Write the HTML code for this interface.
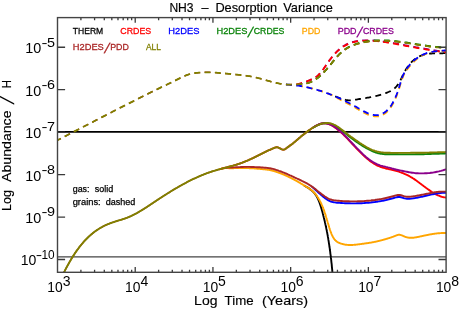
<!DOCTYPE html>
<html><head><meta charset="utf-8"><title>NH3 - Desorption Variance</title>
<style>html,body{margin:0;padding:0;background:#fff;}svg{display:block;}text{font-family:"Liberation Sans",sans-serif;}.t{font-size:12.6px;fill:#000;stroke:#000;stroke-width:0.15px;}.tk{font-size:14.6px;fill:#000;}.ex{font-size:12.8px;fill:#000;}.lg{font-size:9.3px;stroke-width:0.28px;}.an{font-size:8.9px;fill:#000;stroke:#000;stroke-width:0.25px;}</style></head><body>
<svg width="463" height="309" viewBox="0 0 463 309">
<rect width="463" height="309" fill="#fff"/>
<defs><clipPath id="cp"><rect x="57.50" y="17.60" width="388.60" height="254.70"/></clipPath></defs>
<line x1="57.50" x2="446.10" y1="131.8" y2="131.8" stroke="#000" stroke-width="1.7"/>
<line x1="57.50" x2="446.10" y1="256.8" y2="256.8" stroke="#444" stroke-width="1.35"/>
<filter id="bl" x="-5%" y="-5%" width="110%" height="110%"><feGaussianBlur stdDeviation="0.42"/></filter>
<g clip-path="url(#cp)"><g stroke-linejoin="round" filter="url(#bl)">
<path d="M63.9 272.7 L64.9 270.7 L65.9 268.7 L66.9 266.8 L67.9 265.0 L68.9 263.2 L69.9 261.4 L70.9 259.7 L71.9 258.0 L72.9 256.4 L73.9 254.9 L74.9 253.3 L75.9 251.9 L76.9 250.4 L77.9 249.1 L78.9 247.7 L79.9 246.4 L80.9 245.2 L81.9 244.0 L82.9 242.8 L83.9 241.6 L84.9 240.5 L85.9 239.5 L86.9 238.5 L87.9 237.5 L88.9 236.5 L89.9 235.6 L90.9 234.7 L91.9 233.9 L92.9 233.1 L93.9 232.3 L94.9 231.5 L95.9 230.8 L96.9 230.1 L97.9 229.5 L98.9 228.8 L99.9 228.2 L100.9 227.6 L101.9 227.1 L102.9 226.5 L103.9 226.0 L104.9 225.5 L105.9 225.0 L106.9 224.6 L107.9 224.2 L108.9 223.8 L109.9 223.4 L110.9 223.0 L111.9 222.6 L112.9 222.3 L113.9 222.0 L114.9 221.6 L115.9 221.3 L116.9 221.0 L117.9 220.7 L118.9 220.4 L119.9 220.1 L120.9 219.8 L121.9 219.5 L122.9 219.1 L123.9 218.8 L124.9 218.5 L125.9 218.1 L126.9 217.8 L127.9 217.4 L128.9 217.0 L129.9 216.5 L130.9 216.1 L131.9 215.6 L132.9 215.1 L133.9 214.6 L134.9 214.1 L135.9 213.6 L136.9 213.1 L137.9 212.5 L138.9 211.9 L139.9 211.3 L140.9 210.7 L141.9 210.1 L142.9 209.5 L143.9 208.9 L144.9 208.2 L145.9 207.6 L146.9 207.0 L147.9 206.3 L148.9 205.6 L149.9 205.0 L150.9 204.3 L151.9 203.6 L152.9 203.0 L153.9 202.3 L154.9 201.6 L155.9 201.0 L156.9 200.3 L157.9 199.6 L158.9 199.0 L159.9 198.3 L160.9 197.7 L161.9 197.0 L162.9 196.4 L163.9 195.7 L164.9 195.1 L165.9 194.5 L166.9 193.8 L167.9 193.2 L168.9 192.6 L169.9 192.0 L170.9 191.3 L171.9 190.7 L172.9 190.1 L173.9 189.5 L174.9 188.9 L175.9 188.3 L176.9 187.8 L177.9 187.2 L178.9 186.6 L179.9 186.0 L180.9 185.5 L181.9 184.9 L182.9 184.4 L183.9 183.8 L184.9 183.3 L185.9 182.8 L186.9 182.2 L187.9 181.7 L188.9 181.2 L189.9 180.7 L190.9 180.2 L191.9 179.7 L192.9 179.2 L193.9 178.7 L194.9 178.3 L195.9 177.8 L196.9 177.4 L197.9 176.9 L198.9 176.5 L199.9 176.0 L200.9 175.6 L201.9 175.2 L202.9 174.8 L203.9 174.4 L204.9 174.0 L205.9 173.6 L206.9 173.2 L207.9 172.9 L208.9 172.5 L209.9 172.2 L210.9 171.8 L211.9 171.5 L212.9 171.2 L213.9 170.9 L214.9 170.6 L215.9 170.3 L216.9 170.0 L217.9 169.7 L218.9 169.4 L219.9 169.2 L220.9 168.9" stroke="#aa2626" stroke-width="1.50" fill="none"/>
<path d="M304.2 185.4 L304.4 185.6 L304.7 185.7 L304.9 185.9 L305.2 186.0 L305.4 186.2 L305.7 186.3 L305.9 186.5 L306.2 186.6 L306.4 186.8 L306.7 186.9 L306.9 187.1 L307.2 187.3 L307.4 187.4 L307.7 187.6 L307.9 187.7 L308.2 187.9 L308.4 188.0 L308.7 188.2 L308.9 188.4 L309.2 188.5 L309.4 188.7 L309.7 188.9 L309.9 189.1 L310.2 189.3 L310.4 189.5 L310.7 189.6 L310.9 189.8 L311.2 190.0 L311.4 190.3 L311.7 190.5 L311.9 190.7 L312.2 190.9 L312.4 191.1 L312.7 191.4 L312.9 191.6 L313.2 191.9 L313.4 192.1 L313.7 192.4 L313.9 192.6 L314.2 192.9 L314.4 193.2 L314.7 193.5 L314.9 193.8 L315.2 194.1 L315.4 194.5 L315.7 194.8 L315.9 195.2 L316.2 195.6 L316.4 196.0 L316.7 196.4 L316.9 196.9 L317.2 197.3 L317.4 197.8 L317.7 198.3 L317.9 198.8 L318.2 199.4 L318.4 200.0 L318.7 200.5 L318.9 201.2 L319.2 201.8 L319.4 202.5 L319.7 203.2 L319.9 203.9 L320.2 204.6 L320.4 205.3 L320.7 206.1 L320.9 206.9 L321.2 207.7 L321.4 208.6 L321.7 209.4 L321.9 210.3 L322.2 211.2 L322.4 212.1 L322.7 213.1 L322.9 214.0 L323.2 215.0 L323.4 216.0 L323.7 217.0 L323.9 218.0 L324.2 219.0 L324.4 220.1 L324.7 221.1 L324.9 222.2 L325.2 223.3 L325.4 224.4 L325.7 225.5 L325.9 226.6 L326.2 227.8 L326.4 229.0 L326.7 230.2 L326.9 231.5 L327.2 232.8 L327.4 234.1 L327.7 235.5 L327.9 236.9 L328.2 238.4 L328.4 239.9 L328.7 241.5 L328.9 243.1 L329.2 244.7 L329.4 246.5 L329.7 248.2 L329.9 250.0 L330.2 251.9 L330.4 253.8 L330.7 255.7 L330.9 257.7 L331.2 259.8 L331.4 262.1 L331.7 264.4 L331.9 266.9 L332.2 269.6 L332.4 272.5" stroke="#000000" stroke-width="1.90" fill="none"/>
<path d="M219.9 169.2 L220.9 168.9 L221.9 168.6 L222.9 168.3 L223.9 168.1 L224.9 167.8 L225.9 167.6 L226.9 167.3 L227.9 167.0 L228.9 166.8 L229.9 166.5 L230.9 166.2 L231.9 165.9 L232.9 165.7 L233.9 165.4 L234.9 165.1 L235.9 164.8 L236.9 164.5 L237.9 164.1 L238.9 163.8 L239.9 163.5 L240.9 163.1 L241.9 162.8 L242.9 162.4 L243.9 162.0 L244.9 161.6 L245.9 161.2 L246.9 160.8 L247.9 160.4 L248.9 159.9 L249.9 159.5 L250.9 159.0 L251.9 158.5 L252.9 158.1 L253.9 157.6 L254.9 157.1 L255.9 156.6 L256.9 156.1 L257.9 155.6 L258.9 155.1 L259.9 154.6 L260.9 154.1 L261.9 153.6 L262.9 153.1 L263.9 152.6 L264.9 152.1 L265.9 151.6 L266.9 151.1 L267.9 150.6 L268.9 150.2 L269.9 149.8 L270.9 149.3 L271.9 148.9 L272.9 148.5 L273.9 148.0 L274.9 147.6 L275.9 147.3 L276.9 147.2 L277.9 147.4 L278.9 147.8 L279.9 148.3 L280.9 148.9 L281.9 149.4 L282.9 149.7 L283.9 149.6 L284.9 149.3 L285.9 148.6 L286.9 147.8 L287.9 147.1 L288.9 146.4 L289.9 145.6 L290.9 144.9 L291.9 144.2 L292.9 143.4 L293.9 142.6 L294.9 141.7 L295.9 140.9 L296.9 140.0 L297.9 139.2 L298.9 138.3 L299.9 137.5 L300.9 136.6 L301.9 135.8 L302.9 135.0 L303.9 134.2 L304.9 133.4 L305.9 132.6 L306.9 131.9 L307.9 131.1 L308.9 130.4 L309.9 129.7 L310.9 129.0 L311.9 128.3 L312.9 127.7 L313.9 127.0 L314.9 126.4 L315.9 125.9 L316.9 125.3 L317.9 124.8 L318.9 124.4 L319.9 124.0 L320.9 123.7 L321.9 123.5 L322.9 123.4 L323.9 123.3 L324.9 123.3 L325.9 123.4 L326.9 123.6 L327.9 123.8 L328.9 124.1 L329.9 124.5 L330.9 125.0 L331.9 125.5 L332.9 126.1 L333.9 126.7 L334.9 127.4 L335.9 128.1 L336.9 128.9 L337.9 129.7 L338.9 130.5 L339.9 131.4 L340.9 132.3 L341.9 133.2 L342.9 134.2 L343.9 135.2 L344.9 136.1 L345.9 137.2 L346.9 138.2 L347.9 139.2 L348.9 140.3 L349.9 141.3 L350.9 142.4 L351.9 143.5 L352.9 144.5 L353.9 145.6 L354.9 146.7 L355.9 147.8 L356.9 148.8 L357.9 149.9 L358.9 150.9 L359.9 151.9 L360.9 152.9 L361.9 153.9 L362.9 154.9 L363.9 155.8 L364.9 156.7 L365.9 157.6 L366.9 158.5 L367.9 159.3 L368.9 160.1 L369.9 160.9 L370.9 161.6 L371.9 162.3 L372.9 163.0 L373.9 163.6 L374.9 164.2 L375.9 164.8 L376.9 165.3 L377.9 165.8 L378.9 166.2 L379.9 166.6 L380.9 167.0 L381.9 167.3 L382.9 167.7 L383.9 167.9 L384.9 168.2 L385.9 168.5 L386.9 168.7 L387.9 168.9 L388.9 169.2 L389.9 169.4 L390.9 169.6 L391.9 169.8 L392.9 170.1 L393.9 170.3 L394.9 170.6 L395.9 170.8 L396.9 171.1 L397.9 171.4 L398.9 171.7 L399.9 172.1 L400.9 172.4 L401.9 172.8 L402.9 173.2 L403.9 173.6 L404.9 174.0 L405.9 174.5 L406.9 174.9 L407.9 175.4 L408.9 175.9 L409.9 176.5 L410.9 177.1 L411.9 177.6 L412.9 178.3 L413.9 178.9 L414.9 179.6 L415.9 180.3 L416.9 181.0 L417.9 181.8 L418.9 182.5 L419.9 183.3 L420.9 184.0 L421.9 184.8 L422.9 185.5 L423.9 186.3 L424.9 187.0 L425.9 187.8 L426.9 188.5 L427.9 189.2 L428.9 189.9 L429.9 190.6 L430.9 191.3 L431.9 192.0 L432.9 192.6 L433.9 193.2 L434.9 193.8 L435.9 194.3 L436.9 194.8 L437.9 195.3 L438.9 195.7 L439.9 196.1 L440.9 196.5 L441.9 196.8 L442.9 197.1 L443.9 197.3 L444.9 197.4 L445.9 197.5 L446.3 197.5" stroke="#ff0000" stroke-width="1.90" fill="none"/>
<path d="M311.9 186.7 L312.9 187.5 L313.9 188.4 L314.9 189.3 L315.9 190.2 L316.9 191.1 L317.9 192.0 L318.9 193.0 L319.9 193.9 L320.9 194.8 L321.9 195.6 L322.9 196.5 L323.9 197.3 L324.9 198.1 L325.9 198.8 L326.9 199.5 L327.9 200.1 L328.9 200.6 L329.9 201.1 L330.9 201.5 L331.9 201.8 L332.9 202.1 L333.9 202.3 L334.9 202.4 L335.9 202.6 L336.9 202.7 L337.9 202.7 L338.9 202.8 L339.9 202.9 L340.9 203.0 L341.9 203.0 L342.9 203.1 L343.9 203.1 L344.9 203.2 L345.9 203.2 L346.9 203.3 L347.9 203.3 L348.9 203.3 L349.9 203.3 L350.9 203.4 L351.9 203.4 L352.9 203.4 L353.9 203.4 L354.9 203.4 L355.9 203.4 L356.9 203.3 L357.9 203.3 L358.9 203.3 L359.9 203.3 L360.9 203.2 L361.9 203.2 L362.9 203.1 L363.9 203.1 L364.9 203.0 L365.9 202.9 L366.9 202.8 L367.9 202.8 L368.9 202.7 L369.9 202.6 L370.9 202.5 L371.9 202.3 L372.9 202.2 L373.9 202.1 L374.9 202.0 L375.9 201.8 L376.9 201.7 L377.9 201.5 L378.9 201.4 L379.9 201.2 L380.9 201.1 L381.9 200.9 L382.9 200.7 L383.9 200.5 L384.9 200.3 L385.9 200.1 L386.9 199.8 L387.9 199.5 L388.9 199.3 L389.9 199.0 L390.9 198.8 L391.9 198.5 L392.9 198.3 L393.9 198.0 L394.9 197.7 L395.9 197.4 L396.9 197.2 L397.9 197.0 L398.9 196.9 L399.9 197.0 L400.9 197.2 L401.9 197.5 L402.9 197.8 L403.9 198.2 L404.9 198.4 L405.9 198.6 L406.9 198.7 L407.9 198.7 L408.9 198.7 L409.9 198.7 L410.9 198.6 L411.9 198.5 L412.9 198.4 L413.9 198.2 L414.9 198.1 L415.9 197.9 L416.9 197.7 L417.9 197.5 L418.9 197.3 L419.9 197.1 L420.9 196.9 L421.9 196.7 L422.9 196.5 L423.9 196.2 L424.9 196.0 L425.9 195.8 L426.9 195.5 L427.9 195.3 L428.9 195.1 L429.9 194.8 L430.9 194.6 L431.9 194.4 L432.9 194.2 L433.9 194.0 L434.9 193.8 L435.9 193.6 L436.9 193.5 L437.9 193.3 L438.9 193.2 L439.9 193.1 L440.9 193.0 L441.9 192.9 L442.9 192.9 L443.9 192.8 L444.9 192.8 L445.9 192.9 L446.3 192.9" stroke="#0000ff" stroke-width="1.90" fill="none"/>
<path d="M312.9 127.7 L313.9 127.1 L314.9 126.6 L315.9 126.0 L316.9 125.5 L317.9 125.0 L318.9 124.6 L319.9 124.2 L320.9 123.8 L321.9 123.6 L322.9 123.4 L323.9 123.2 L324.9 123.2 L325.9 123.2 L326.9 123.3 L327.9 123.4 L328.9 123.6 L329.9 123.8 L330.9 124.1 L331.9 124.4 L332.9 124.9 L333.9 125.3 L334.9 125.9 L335.9 126.4 L336.9 127.1 L337.9 127.7 L338.9 128.4 L339.9 129.2 L340.9 129.9 L341.9 130.7 L342.9 131.5 L343.9 132.3 L344.9 133.0 L345.9 133.8 L346.9 134.6 L347.9 135.4 L348.9 136.2 L349.9 137.0 L350.9 137.7 L351.9 138.5 L352.9 139.2 L353.9 139.9 L354.9 140.7 L355.9 141.4 L356.9 142.1 L357.9 142.8 L358.9 143.5 L359.9 144.2 L360.9 144.8 L361.9 145.5 L362.9 146.1 L363.9 146.7 L364.9 147.3 L365.9 147.9 L366.9 148.5 L367.9 149.0 L368.9 149.5 L369.9 150.0 L370.9 150.5 L371.9 151.0 L372.9 151.4 L373.9 151.8 L374.9 152.2 L375.9 152.6 L376.9 152.9 L377.9 153.2 L378.9 153.4 L379.9 153.6 L380.9 153.8 L381.9 153.9 L382.9 154.0 L383.9 154.1 L384.9 154.2 L385.9 154.2 L386.9 154.2 L387.9 154.2 L388.9 154.2 L389.9 154.2 L390.9 154.2 L391.9 154.2 L392.9 154.2 L393.9 154.3 L394.9 154.3 L395.9 154.3 L396.9 154.3 L397.9 154.3 L398.9 154.4 L399.9 154.4 L400.9 154.4 L401.9 154.4 L402.9 154.4 L403.9 154.4 L404.9 154.4 L405.9 154.4 L406.9 154.4 L407.9 154.4 L408.9 154.4 L409.9 154.4 L410.9 154.4 L411.9 154.4 L412.9 154.4 L413.9 154.4 L414.9 154.4 L415.9 154.3 L416.9 154.3 L417.9 154.3 L418.9 154.3 L419.9 154.3 L420.9 154.2 L421.9 154.2 L422.9 154.2 L423.9 154.2 L424.9 154.1 L425.9 154.1 L426.9 154.1 L427.9 154.0 L428.9 154.0 L429.9 154.0 L430.9 154.0 L431.9 153.9 L432.9 153.9 L433.9 153.8 L434.9 153.8 L435.9 153.8 L436.9 153.7 L437.9 153.7 L438.9 153.7 L439.9 153.6 L440.9 153.6 L441.9 153.6 L442.9 153.5 L443.9 153.5 L444.9 153.5 L445.9 153.4 L446.3 153.4" stroke="#0a830a" stroke-width="1.90" fill="none"/>
<path d="M219.2 169.4 L219.4 169.3 L219.7 169.2 L219.9 169.2 L220.2 169.1 L220.4 169.0 L220.7 168.9 L220.9 168.9 L221.2 168.8 L221.4 168.8 L221.7 168.7 L221.9 168.6 L222.2 168.6 L222.4 168.5 L222.7 168.5 L222.9 168.4 L223.2 168.4 L223.4 168.3 L223.7 168.3 L223.9 168.3 L224.2 168.2 L224.4 168.2 L224.7 168.2 L224.9 168.1 L225.2 168.1 L225.4 168.1 L225.7 168.1 L225.9 168.1 L226.2 168.1 L226.4 168.1 L226.7 168.1 L226.9 168.1 L227.2 168.1 L227.4 168.1 L227.7 168.1 L227.9 168.1 L228.2 168.1 L228.4 168.1 L228.7 168.2 L228.9 168.2 L229.2 168.2 L229.4 168.2 L229.7 168.2 L229.9 168.2 L230.2 168.3 L230.4 168.3 L230.7 168.3 L230.9 168.3 L231.2 168.3 L231.4 168.3 L231.7 168.3 L231.9 168.3 L232.2 168.3 L232.4 168.2 L232.7 168.2 L232.9 168.2 L233.2 168.2 L233.4 168.2 L233.7 168.2 L233.9 168.2 L234.2 168.1 L234.4 168.1 L234.7 168.1 L234.9 168.1 L235.2 168.1 L235.4 168.1 L235.7 168.1 L235.9 168.1 L236.2 168.1 L236.4 168.0 L236.7 168.0 L236.9 168.0 L237.2 168.0 L237.4 168.0 L237.7 168.0 L237.9 168.0 L238.2 168.0 L238.4 168.0 L238.7 168.0 L238.9 168.0 L239.2 168.0 L239.4 168.0 L239.7 168.0 L239.9 168.0 L240.2 168.0 L240.4 168.0 L240.7 168.0 L240.9 168.0 L241.2 168.0 L241.4 168.0 L241.7 168.0 L241.9 168.0 L242.2 168.0 L242.4 168.0 L242.7 168.0 L242.9 168.0 L243.2 168.0 L243.4 168.0 L243.7 168.0 L243.9 168.0 L244.2 168.0 L244.4 168.0 L244.7 168.0 L244.9 168.0 L245.2 168.0 L245.4 168.0 L245.7 168.0 L245.9 168.0 L246.2 168.0 L246.4 168.0 L246.7 168.1 L246.9 168.1 L247.2 168.1 L247.4 168.1 L247.7 168.1 L247.9 168.1 L248.2 168.1 L248.4 168.1 L248.7 168.1 L248.9 168.1 L249.2 168.2 L249.4 168.2 L249.7 168.2 L249.9 168.2 L250.2 168.2 L250.4 168.2 L250.7 168.2 L250.9 168.2 L251.2 168.3 L251.4 168.3 L251.7 168.3 L251.9 168.3 L252.2 168.3 L252.4 168.3 L252.7 168.3 L252.9 168.4 L253.2 168.4 L253.4 168.4 L253.7 168.4 L253.9 168.4 L254.2 168.4 L254.4 168.5 L254.7 168.5 L254.9 168.5 L255.2 168.5 L255.4 168.5 L255.7 168.6 L255.9 168.6 L256.2 168.6 L256.4 168.6 L256.7 168.6 L256.9 168.7 L257.2 168.7 L257.4 168.7 L257.7 168.7 L257.9 168.7 L258.2 168.8 L258.4 168.8 L258.7 168.8 L258.9 168.8 L259.2 168.9 L259.4 168.9 L259.7 168.9 L259.9 168.9 L260.2 168.9 L260.4 169.0 L260.7 169.0 L260.9 169.0 L261.2 169.0 L261.4 169.0 L261.7 169.1 L261.9 169.1 L262.2 169.1 L262.4 169.1 L262.7 169.2 L262.9 169.2 L263.2 169.2 L263.4 169.2 L263.7 169.2 L263.9 169.3 L264.2 169.3 L264.4 169.3 L264.7 169.3 L264.9 169.4 L265.2 169.4 L265.4 169.4 L265.7 169.5 L265.9 169.5 L266.2 169.5 L266.4 169.5 L266.7 169.6 L266.9 169.6 L267.2 169.6 L267.4 169.7 L267.7 169.7 L267.9 169.7 L268.2 169.8 L268.4 169.8 L268.7 169.9 L268.9 169.9 L269.2 169.9 L269.4 170.0 L269.7 170.0 L269.9 170.1 L270.2 170.1 L270.4 170.2 L270.7 170.2 L270.9 170.3 L271.2 170.3 L271.4 170.4 L271.7 170.5 L271.9 170.5 L272.2 170.6 L272.4 170.7 L272.7 170.7 L272.9 170.8 L273.2 170.9 L273.4 170.9 L273.7 171.0 L273.9 171.1 L274.2 171.1 L274.4 171.2 L274.7 171.3 L274.9 171.4 L275.2 171.5 L275.4 171.5 L275.7 171.6 L275.9 171.7 L276.2 171.8 L276.4 171.9 L276.7 172.0 L276.9 172.0 L277.2 172.1 L277.4 172.2 L277.7 172.3 L277.9 172.4 L278.2 172.5 L278.4 172.6 L278.7 172.7 L278.9 172.8 L279.2 172.9 L279.4 172.9 L279.7 173.0 L279.9 173.1 L280.2 173.2 L280.4 173.3 L280.7 173.4 L280.9 173.5 L281.2 173.6 L281.4 173.7 L281.7 173.8 L281.9 173.9 L282.2 174.0 L282.4 174.1 L282.7 174.2 L282.9 174.3 L283.2 174.4 L283.4 174.5 L283.7 174.6 L283.9 174.7 L284.2 174.8 L284.4 174.9 L284.7 175.0 L284.9 175.2 L285.2 175.3 L285.4 175.4 L285.7 175.5 L285.9 175.6 L286.2 175.7 L286.4 175.8 L286.7 175.9 L286.9 176.0 L287.2 176.2 L287.4 176.3 L287.7 176.4 L287.9 176.5 L288.2 176.6 L288.4 176.7 L288.7 176.8 L288.9 177.0 L289.2 177.1 L289.4 177.2 L289.7 177.3 L289.9 177.5 L290.2 177.6 L290.4 177.7 L290.7 177.8 L290.9 177.9 L291.2 178.1 L291.4 178.2 L291.7 178.3 L291.9 178.5 L292.2 178.6 L292.4 178.7 L292.7 178.8 L292.9 179.0 L293.2 179.1 L293.4 179.2 L293.7 179.4 L293.9 179.5 L294.2 179.6 L294.4 179.8 L294.7 179.9 L294.9 180.1 L295.2 180.2 L295.4 180.3 L295.7 180.5 L295.9 180.6 L296.2 180.7 L296.4 180.9 L296.7 181.0 L296.9 181.2 L297.2 181.3 L297.4 181.4 L297.7 181.6 L297.9 181.7 L298.2 181.9 L298.4 182.0 L298.7 182.2 L298.9 182.3 L299.2 182.4 L299.4 182.6 L299.7 182.7 L299.9 182.9 L300.2 183.0 L300.4 183.2 L300.7 183.3 L300.9 183.5 L301.2 183.6 L301.4 183.8 L301.7 183.9 L301.9 184.1 L302.2 184.2 L302.4 184.4 L302.7 184.5 L302.9 184.7 L303.2 184.8 L303.4 185.0 L303.7 185.1 L303.9 185.3 L304.2 185.4 L304.4 185.6 L304.7 185.7 L304.9 185.9 L305.2 186.0 L305.4 186.2 L305.7 186.3 L305.9 186.5 L306.2 186.6 L306.4 186.8 L306.7 186.9 L306.9 187.1 L307.2 187.3 L307.4 187.4 L307.7 187.6 L307.9 187.7 L308.2 187.9 L308.4 188.0 L308.7 188.2 L308.9 188.4 L309.2 188.5 L309.4 188.7 L309.7 188.9 L309.9 189.0 L310.2 189.2 L310.4 189.4 L310.7 189.6 L310.9 189.7 L311.2 189.9 L311.4 190.1 L311.7 190.3 L311.9 190.5 L312.2 190.7 L312.4 190.9 L312.7 191.2 L312.9 191.4 L313.2 191.6 L313.4 191.9 L313.7 192.1 L313.9 192.4 L314.2 192.6 L314.4 192.9 L314.7 193.2 L314.9 193.5 L315.2 193.8 L315.4 194.1 L315.7 194.4 L315.9 194.7 L316.2 195.0 L316.4 195.4 L316.7 195.7 L316.9 196.1 L317.2 196.5 L317.4 196.8 L317.7 197.2 L317.9 197.6 L318.2 198.0 L318.4 198.4 L318.7 198.8 L318.9 199.2 L319.2 199.7 L319.4 200.1 L319.7 200.6 L319.9 201.0 L320.2 201.5 L320.4 202.0 L320.7 202.5 L320.9 203.0 L321.2 203.5 L321.4 204.0 L321.7 204.6 L321.9 205.1 L322.2 205.7 L322.4 206.3 L322.7 206.9 L322.9 207.5 L323.2 208.1 L323.4 208.8 L323.7 209.5 L323.9 210.2 L324.2 210.9 L324.4 211.6 L324.7 212.4 L324.9 213.1 L325.2 213.9 L325.4 214.7 L325.7 215.5 L325.9 216.3 L326.2 217.1 L326.4 218.0 L326.7 218.8 L326.9 219.6 L327.2 220.5 L327.4 221.3 L327.7 222.2 L327.9 223.0 L328.2 223.9 L328.4 224.7 L328.7 225.5 L328.9 226.4 L329.2 227.2 L329.4 228.0 L329.7 228.8 L329.9 229.6 L330.2 230.3 L330.4 231.0 L330.7 231.8 L330.9 232.5 L331.2 233.1 L331.4 233.8 L331.7 234.4 L331.9 234.9 L332.2 235.5 L332.4 236.0 L332.7 236.5 L332.9 237.0 L333.2 237.4 L333.4 237.8 L333.7 238.2 L333.9 238.6 L334.2 238.9 L334.4 239.3 L334.7 239.6 L334.9 239.9 L335.2 240.1 L335.4 240.4 L335.7 240.7 L335.9 240.9 L336.2 241.1 L336.4 241.3 L336.7 241.5 L336.9 241.7 L337.2 241.9 L337.4 242.0 L337.7 242.2 L337.9 242.3 L338.2 242.5 L338.4 242.6 L338.7 242.7 L338.9 242.8 L339.2 242.9 L339.4 243.0 L339.7 243.1 L339.9 243.2 L340.2 243.3 L340.4 243.4 L340.7 243.5 L340.9 243.6 L341.2 243.6 L341.4 243.7 L341.7 243.8 L341.9 243.9 L342.2 243.9 L342.4 244.0 L342.7 244.1 L342.9 244.1 L343.2 244.2 L343.4 244.3 L343.7 244.3 L343.9 244.4 L344.2 244.4 L344.4 244.5 L344.7 244.5 L344.9 244.6 L345.2 244.6 L345.4 244.7 L345.7 244.7 L345.9 244.7 L346.2 244.8 L346.4 244.8 L346.7 244.8 L346.9 244.9 L347.2 244.9 L347.4 244.9 L347.7 244.9 L347.9 244.9 L348.2 245.0 L348.4 245.0 L348.7 245.0 L348.9 245.0 L349.2 245.0 L349.4 245.0 L349.7 245.0 L349.9 245.0 L350.2 245.0 L350.4 245.0 L350.7 245.0 L350.9 245.0 L351.2 245.0 L351.4 245.0 L351.7 245.0 L351.9 245.0 L352.2 245.0 L352.4 245.0 L352.7 245.0 L352.9 244.9 L353.2 244.9 L353.4 244.9 L353.7 244.9 L353.9 244.9 L354.2 244.8 L354.4 244.8 L354.7 244.8 L354.9 244.8 L355.2 244.7 L355.4 244.7 L355.7 244.7 L355.9 244.7 L356.2 244.6 L356.4 244.6 L356.7 244.6 L356.9 244.5 L357.2 244.5 L357.4 244.5 L357.7 244.4 L357.9 244.4 L358.2 244.4 L358.4 244.4 L358.7 244.3 L358.9 244.3 L359.2 244.3 L359.4 244.2 L359.7 244.2 L359.9 244.2 L360.2 244.1 L360.4 244.1 L360.7 244.1 L360.9 244.0 L361.2 244.0 L361.4 244.0 L361.7 243.9 L361.9 243.9 L362.2 243.9 L362.4 243.8 L362.7 243.8 L362.9 243.8 L363.2 243.7 L363.4 243.7 L363.7 243.7 L363.9 243.6 L364.2 243.6 L364.4 243.6 L364.7 243.5 L364.9 243.5 L365.2 243.5 L365.4 243.4 L365.7 243.4 L365.9 243.3 L366.2 243.3 L366.4 243.3 L366.7 243.2 L366.9 243.2 L367.2 243.2 L367.4 243.1 L367.7 243.1 L367.9 243.1 L368.2 243.0 L368.4 243.0 L368.7 243.0 L368.9 242.9 L369.2 242.9 L369.4 242.8 L369.7 242.8 L369.9 242.8 L370.2 242.7 L370.4 242.7 L370.7 242.6 L370.9 242.6 L371.2 242.6 L371.4 242.5 L371.7 242.5 L371.9 242.4 L372.2 242.4 L372.4 242.3 L372.7 242.3 L372.9 242.2 L373.2 242.2 L373.4 242.1 L373.7 242.1 L373.9 242.0 L374.2 242.0 L374.4 241.9 L374.7 241.9 L374.9 241.8 L375.2 241.8 L375.4 241.7 L375.7 241.7 L375.9 241.6 L376.2 241.6 L376.4 241.5 L376.7 241.5 L376.9 241.4 L377.2 241.3 L377.4 241.3 L377.7 241.2 L377.9 241.2 L378.2 241.1 L378.4 241.1 L378.7 241.0 L378.9 240.9 L379.2 240.9 L379.4 240.8 L379.7 240.7 L379.9 240.7 L380.2 240.6 L380.4 240.6 L380.7 240.5 L380.9 240.4 L381.2 240.4 L381.4 240.3 L381.7 240.2 L381.9 240.2 L382.2 240.1 L382.4 240.0 L382.7 240.0 L382.9 239.9 L383.2 239.8 L383.4 239.8 L383.7 239.7 L383.9 239.6 L384.2 239.5 L384.4 239.5 L384.7 239.4 L384.9 239.3 L385.2 239.3 L385.4 239.2 L385.7 239.1 L385.9 239.0 L386.2 239.0 L386.4 238.9 L386.7 238.8 L386.9 238.7 L387.2 238.7 L387.4 238.6 L387.7 238.5 L387.9 238.4 L388.2 238.4 L388.4 238.3 L388.7 238.2 L388.9 238.1 L389.2 238.0 L389.4 238.0 L389.7 237.9 L389.9 237.8 L390.2 237.7 L390.4 237.6 L390.7 237.6 L390.9 237.5 L391.2 237.4 L391.4 237.3 L391.7 237.2 L391.9 237.1 L392.2 237.0 L392.4 236.9 L392.7 236.9 L392.9 236.8 L393.2 236.7 L393.4 236.6 L393.7 236.5 L393.9 236.4 L394.2 236.3 L394.4 236.2 L394.7 236.1 L394.9 236.0 L395.2 235.9 L395.4 235.8 L395.7 235.7 L395.9 235.6 L396.2 235.5 L396.4 235.4 L396.7 235.3 L396.9 235.2 L397.2 235.1 L397.4 235.1 L397.7 235.0 L397.9 234.9 L398.2 234.9 L398.4 234.8 L398.7 234.8 L398.9 234.8 L399.2 234.8 L399.4 234.8 L399.7 234.8 L399.9 234.8 L400.2 234.9 L400.4 234.9 L400.7 235.0 L400.9 235.1 L401.2 235.1 L401.4 235.2 L401.7 235.3 L401.9 235.4 L402.2 235.5 L402.4 235.6 L402.7 235.7 L402.9 235.8 L403.2 236.0 L403.4 236.1 L403.7 236.2 L403.9 236.3 L404.2 236.4 L404.4 236.5 L404.7 236.6 L404.9 236.7 L405.2 236.8 L405.4 236.9 L405.7 237.0 L405.9 237.1 L406.2 237.1 L406.4 237.2 L406.7 237.3 L406.9 237.3 L407.2 237.4 L407.4 237.4 L407.7 237.5 L407.9 237.5 L408.2 237.6 L408.4 237.6 L408.7 237.7 L408.9 237.7 L409.2 237.7 L409.4 237.7 L409.7 237.8 L409.9 237.8 L410.2 237.8 L410.4 237.8 L410.7 237.8 L410.9 237.8 L411.2 237.8 L411.4 237.8 L411.7 237.8 L411.9 237.8 L412.2 237.8 L412.4 237.8 L412.7 237.7 L412.9 237.7 L413.2 237.7 L413.4 237.7 L413.7 237.7 L413.9 237.6 L414.2 237.6 L414.4 237.6 L414.7 237.5 L414.9 237.5 L415.2 237.5 L415.4 237.4 L415.7 237.4 L415.9 237.3 L416.2 237.3 L416.4 237.3 L416.7 237.2 L416.9 237.2 L417.2 237.1 L417.4 237.1 L417.7 237.0 L417.9 237.0 L418.2 236.9 L418.4 236.9 L418.7 236.8 L418.9 236.8 L419.2 236.7 L419.4 236.7 L419.7 236.6 L419.9 236.5 L420.2 236.5 L420.4 236.4 L420.7 236.4 L420.9 236.3 L421.2 236.3 L421.4 236.2 L421.7 236.2 L421.9 236.1 L422.2 236.1 L422.4 236.0 L422.7 235.9 L422.9 235.9 L423.2 235.8 L423.4 235.8 L423.7 235.7 L423.9 235.7 L424.2 235.6 L424.4 235.6 L424.7 235.5 L424.9 235.5 L425.2 235.4 L425.4 235.4 L425.7 235.3 L425.9 235.3 L426.2 235.2 L426.4 235.2 L426.7 235.1 L426.9 235.1 L427.2 235.0 L427.4 235.0 L427.7 234.9 L427.9 234.9 L428.2 234.8 L428.4 234.8 L428.7 234.7 L428.9 234.7 L429.2 234.6 L429.4 234.6 L429.7 234.5 L429.9 234.5 L430.2 234.4 L430.4 234.4 L430.7 234.3 L430.9 234.3 L431.2 234.3 L431.4 234.2 L431.7 234.2 L431.9 234.1 L432.2 234.1 L432.4 234.0 L432.7 234.0 L432.9 234.0 L433.2 233.9 L433.4 233.9 L433.7 233.9 L433.9 233.8 L434.2 233.8 L434.4 233.7 L434.7 233.7 L434.9 233.7 L435.2 233.6 L435.4 233.6 L435.7 233.6 L435.9 233.5 L436.2 233.5 L436.4 233.5 L436.7 233.4 L436.9 233.4 L437.2 233.4 L437.4 233.4 L437.7 233.3 L437.9 233.3 L438.2 233.3 L438.4 233.3 L438.7 233.2 L438.9 233.2 L439.2 233.2 L439.4 233.2 L439.7 233.2 L439.9 233.1 L440.2 233.1 L440.4 233.1 L440.7 233.1 L440.9 233.1 L441.2 233.1 L441.4 233.0 L441.7 233.0 L441.9 233.0 L442.2 233.0 L442.4 233.0 L442.7 233.0 L442.9 233.0 L443.2 233.0 L443.4 233.0 L443.7 233.0 L443.9 233.0 L444.2 233.0 L444.4 233.0 L444.7 233.0 L444.9 233.0 L445.2 233.0 L445.4 233.0 L445.7 233.0 L445.9 233.0 L446.2 233.0 L446.3 233.0" stroke="#ffa500" stroke-width="1.90" fill="none"/>
<path d="M312.9 127.7 L313.9 127.0 L314.9 126.4 L315.9 125.9 L316.9 125.3 L317.9 124.8 L318.9 124.4 L319.9 124.0 L320.9 123.7 L321.9 123.5 L322.9 123.4 L323.9 123.3 L324.9 123.3 L325.9 123.4 L326.9 123.5 L327.9 123.7 L328.9 124.0 L329.9 124.4 L330.9 124.8 L331.9 125.3 L332.9 125.9 L333.9 126.5 L334.9 127.1 L335.9 127.8 L336.9 128.6 L337.9 129.4 L338.9 130.2 L339.9 131.0 L340.9 131.9 L341.9 132.8 L342.9 133.7 L343.9 134.7 L344.9 135.7 L345.9 136.7 L346.9 137.7 L347.9 138.7 L348.9 139.7 L349.9 140.8 L350.9 141.8 L351.9 142.9 L352.9 144.0 L353.9 145.0 L354.9 146.1 L355.9 147.1 L356.9 148.2 L357.9 149.2 L358.9 150.2 L359.9 151.2 L360.9 152.2 L361.9 153.2 L362.9 154.2 L363.9 155.1 L364.9 156.0 L365.9 156.9 L366.9 157.7 L367.9 158.5 L368.9 159.3 L369.9 160.0 L370.9 160.7 L371.9 161.4 L372.9 162.0 L373.9 162.6 L374.9 163.2 L375.9 163.7 L376.9 164.2 L377.9 164.6 L378.9 165.0 L379.9 165.4 L380.9 165.7 L381.9 165.9 L382.9 166.2 L383.9 166.4 L384.9 166.6 L385.9 166.9 L386.9 167.1 L387.9 167.4 L388.9 167.6 L389.9 167.9 L390.9 168.2 L391.9 168.5 L392.9 168.7 L393.9 169.0 L394.9 169.3 L395.9 169.5 L396.9 169.8 L397.9 170.0 L398.9 170.2 L399.9 170.4 L400.9 170.6 L401.9 170.8 L402.9 171.0 L403.9 171.2 L404.9 171.4 L405.9 171.6 L406.9 171.8 L407.9 172.0 L408.9 172.2 L409.9 172.4 L410.9 172.5 L411.9 172.7 L412.9 172.8 L413.9 172.9 L414.9 173.1 L415.9 173.2 L416.9 173.2 L417.9 173.3 L418.9 173.4 L419.9 173.4 L420.9 173.4 L421.9 173.4 L422.9 173.4 L423.9 173.4 L424.9 173.3 L425.9 173.3 L426.9 173.2 L427.9 173.1 L428.9 173.1 L429.9 173.0 L430.9 172.8 L431.9 172.7 L432.9 172.6 L433.9 172.4 L434.9 172.2 L435.9 172.0 L436.9 171.8 L437.9 171.6 L438.9 171.4 L439.9 171.1 L440.9 170.9 L441.9 170.6 L442.9 170.3 L443.9 170.0 L444.9 169.7 L445.9 169.4 L446.3 169.2" stroke="#8b008b" stroke-width="1.90" fill="none"/>
<path d="M219.9 169.2 L220.9 168.9 L221.9 168.6 L222.9 168.4 L223.9 168.1 L224.9 167.9 L225.9 167.8 L226.9 167.7 L227.9 167.6 L228.9 167.6 L229.9 167.6 L230.9 167.6 L231.9 167.6 L232.9 167.5 L233.9 167.4 L234.9 167.4 L235.9 167.3 L236.9 167.2 L237.9 167.2 L238.9 167.1 L239.9 167.1 L240.9 167.0 L241.9 167.0 L242.9 167.0 L243.9 166.9 L244.9 166.9 L245.9 166.9 L246.9 166.9 L247.9 166.9 L248.9 166.9 L249.9 166.9 L250.9 167.0 L251.9 167.0 L252.9 167.0 L253.9 167.0 L254.9 167.1 L255.9 167.1 L256.9 167.2 L257.9 167.2 L258.9 167.3 L259.9 167.3 L260.9 167.4 L261.9 167.5 L262.9 167.5 L263.9 167.6 L264.9 167.7 L265.9 167.8 L266.9 167.9 L267.9 168.0 L268.9 168.1 L269.9 168.3 L270.9 168.5 L271.9 168.7 L272.9 168.9 L273.9 169.2 L274.9 169.5 L275.9 169.8 L276.9 170.1 L277.9 170.4 L278.9 170.8 L279.9 171.1 L280.9 171.5 L281.9 171.9 L282.9 172.3 L283.9 172.7 L284.9 173.1 L285.9 173.5 L286.9 173.9 L287.9 174.4 L288.9 174.8 L289.9 175.3 L290.9 175.7 L291.9 176.2 L292.9 176.6 L293.9 177.1 L294.9 177.6 L295.9 178.0 L296.9 178.5 L297.9 179.0 L298.9 179.4 L299.9 179.9 L300.9 180.4 L301.9 180.9 L302.9 181.3 L303.9 181.8 L304.9 182.3 L305.9 182.8 L306.9 183.4 L307.9 184.0 L308.9 184.6 L309.9 185.2 L310.9 185.9 L311.9 186.6 L312.9 187.3 L313.9 188.1 L314.9 188.8 L315.9 189.6 L316.9 190.4 L317.9 191.3 L318.9 192.1 L319.9 192.8 L320.9 193.6 L321.9 194.4 L322.9 195.1 L323.9 195.8 L324.9 196.5 L325.9 197.1 L326.9 197.7 L327.9 198.3 L328.9 198.8 L329.9 199.2 L330.9 199.5 L331.9 199.8 L332.9 200.1 L333.9 200.3 L334.9 200.4 L335.9 200.5 L336.9 200.6 L337.9 200.7 L338.9 200.8 L339.9 200.9 L340.9 201.0 L341.9 201.0 L342.9 201.1 L343.9 201.1 L344.9 201.2 L345.9 201.2 L346.9 201.3 L347.9 201.3 L348.9 201.3 L349.9 201.4 L350.9 201.4 L351.9 201.4 L352.9 201.4 L353.9 201.4 L354.9 201.4 L355.9 201.4 L356.9 201.4 L357.9 201.3 L358.9 201.3 L359.9 201.3 L360.9 201.2 L361.9 201.2 L362.9 201.1 L363.9 201.1 L364.9 201.0 L365.9 200.9 L366.9 200.8 L367.9 200.8 L368.9 200.7 L369.9 200.6 L370.9 200.5 L371.9 200.3 L372.9 200.2 L373.9 200.1 L374.9 200.0 L375.9 199.8 L376.9 199.7 L377.9 199.5 L378.9 199.4 L379.9 199.2 L380.9 199.1 L381.9 198.9 L382.9 198.7 L383.9 198.5 L384.9 198.3 L385.9 198.0 L386.9 197.8 L387.9 197.5 L388.9 197.3 L389.9 197.0 L390.9 196.8 L391.9 196.5 L392.9 196.3 L393.9 196.0 L394.9 195.7 L395.9 195.4 L396.9 195.2 L397.9 195.0 L398.9 194.9 L399.9 195.0 L400.9 195.2 L401.9 195.5 L402.9 195.8 L403.9 196.2 L404.9 196.4 L405.9 196.6 L406.9 196.7 L407.9 196.7 L408.9 196.7 L409.9 196.7 L410.9 196.6 L411.9 196.5 L412.9 196.4 L413.9 196.2 L414.9 196.1 L415.9 195.9 L416.9 195.7 L417.9 195.5 L418.9 195.4 L419.9 195.2 L420.9 195.0 L421.9 194.8 L422.9 194.6 L423.9 194.4 L424.9 194.2 L425.9 194.0 L426.9 193.8 L427.9 193.6 L428.9 193.4 L429.9 193.2 L430.9 193.0 L431.9 192.8 L432.9 192.6 L433.9 192.5 L434.9 192.3 L435.9 192.2 L436.9 192.0 L437.9 191.9 L438.9 191.8 L439.9 191.7 L440.9 191.7 L441.9 191.6 L442.9 191.6 L443.9 191.6 L444.9 191.6 L445.9 191.7 L446.3 191.7" stroke="#aa2626" stroke-width="1.90" fill="none"/>
<path d="M63.9 272.7 L64.9 270.7 L65.9 268.7 L66.9 266.8 L67.9 265.0 L68.9 263.2 L69.9 261.4 L70.9 259.7 L71.9 258.0 L72.9 256.4 L73.9 254.9 L74.9 253.3 L75.9 251.9 L76.9 250.4 L77.9 249.1 L78.9 247.7 L79.9 246.4 L80.9 245.2 L81.9 244.0 L82.9 242.8 L83.9 241.6 L84.9 240.5 L85.9 239.5 L86.9 238.5 L87.9 237.5 L88.9 236.5 L89.9 235.6 L90.9 234.7 L91.9 233.9 L92.9 233.1 L93.9 232.3 L94.9 231.5 L95.9 230.8 L96.9 230.1 L97.9 229.5 L98.9 228.8 L99.9 228.2 L100.9 227.6 L101.9 227.1 L102.9 226.5 L103.9 226.0 L104.9 225.5 L105.9 225.0 L106.9 224.6 L107.9 224.2 L108.9 223.8 L109.9 223.4 L110.9 223.0 L111.9 222.6 L112.9 222.3 L113.9 222.0 L114.9 221.6 L115.9 221.3 L116.9 221.0 L117.9 220.7 L118.9 220.4 L119.9 220.1 L120.9 219.8 L121.9 219.5 L122.9 219.1 L123.9 218.8 L124.9 218.5 L125.9 218.1 L126.9 217.8 L127.9 217.4 L128.9 217.0 L129.9 216.5 L130.9 216.1 L131.9 215.6 L132.9 215.1 L133.9 214.6 L134.9 214.1 L135.9 213.6 L136.9 213.1 L137.9 212.5 L138.9 211.9 L139.9 211.3 L140.9 210.7 L141.9 210.1 L142.9 209.5 L143.9 208.9 L144.9 208.2 L145.9 207.6 L146.9 207.0 L147.9 206.3 L148.9 205.6 L149.9 205.0 L150.9 204.3 L151.9 203.6 L152.9 203.0 L153.9 202.3 L154.9 201.6 L155.9 201.0 L156.9 200.3 L157.9 199.6 L158.9 199.0 L159.9 198.3 L160.9 197.7 L161.9 197.0 L162.9 196.4 L163.9 195.7 L164.9 195.1 L165.9 194.5 L166.9 193.8 L167.9 193.2 L168.9 192.6 L169.9 192.0 L170.9 191.3 L171.9 190.7 L172.9 190.1 L173.9 189.5 L174.9 188.9 L175.9 188.3 L176.9 187.8 L177.9 187.2 L178.9 186.6 L179.9 186.0 L180.9 185.5 L181.9 184.9 L182.9 184.4 L183.9 183.8 L184.9 183.3 L185.9 182.8 L186.9 182.2 L187.9 181.7 L188.9 181.2 L189.9 180.7 L190.9 180.2 L191.9 179.7 L192.9 179.2 L193.9 178.7 L194.9 178.3 L195.9 177.8 L196.9 177.4 L197.9 176.9 L198.9 176.5 L199.9 176.0 L200.9 175.6 L201.9 175.2 L202.9 174.8 L203.9 174.4 L204.9 174.0 L205.9 173.6 L206.9 173.2 L207.9 172.9 L208.9 172.5 L209.9 172.2 L210.9 171.8 L211.9 171.5 L212.9 171.2 L213.9 170.9 L214.9 170.6 L215.9 170.3 L216.9 170.0 L217.9 169.7 L218.9 169.4 L219.9 169.2 L220.9 168.9 L221.9 168.6 L222.9 168.3 L223.9 168.1 L224.9 167.8 L225.9 167.6 L226.9 167.3 L227.9 167.0 L228.9 166.8 L229.9 166.5 L230.9 166.2 L231.9 165.9 L232.9 165.7 L233.9 165.4 L234.9 165.1 L235.9 164.8 L236.9 164.5 L237.9 164.1 L238.9 163.8 L239.9 163.5 L240.9 163.1 L241.9 162.8 L242.9 162.4 L243.9 162.0 L244.9 161.6 L245.9 161.2 L246.9 160.8 L247.9 160.4 L248.9 159.9 L249.9 159.5 L250.9 159.0 L251.9 158.5 L252.9 158.1 L253.9 157.6 L254.9 157.1 L255.9 156.6 L256.9 156.1 L257.9 155.6 L258.9 155.1 L259.9 154.6 L260.9 154.1 L261.9 153.6 L262.9 153.1 L263.9 152.6 L264.9 152.1 L265.9 151.6 L266.9 151.1 L267.9 150.6 L268.9 150.2 L269.9 149.8 L270.9 149.3 L271.9 148.9 L272.9 148.5 L273.9 148.0 L274.9 147.6 L275.9 147.3 L276.9 147.2 L277.9 147.4 L278.9 147.8 L279.9 148.3 L280.9 148.9 L281.9 149.4 L282.9 149.7 L283.9 149.6 L284.9 149.3 L285.9 148.6 L286.9 147.8 L287.9 147.1 L288.9 146.4 L289.9 145.6 L290.9 144.9 L291.9 144.2 L292.9 143.4 L293.9 142.6 L294.9 141.7 L295.9 140.9 L296.9 140.0 L297.9 139.2 L298.9 138.3 L299.9 137.5 L300.9 136.6 L301.9 135.8 L302.9 135.0 L303.9 134.2 L304.9 133.4 L305.9 132.6 L306.9 131.9 L307.9 131.1 L308.9 130.4 L309.9 129.7 L310.9 129.0 L311.9 128.3 L312.9 127.7 L313.9 127.1 L314.9 126.6 L315.9 126.0 L316.9 125.5 L317.9 125.1 L318.9 124.7 L319.9 124.3 L320.9 124.0 L321.9 123.7 L322.9 123.4 L323.9 123.3 L324.9 123.1 L325.9 123.0 L326.9 123.0 L327.9 123.0 L328.9 123.1 L329.9 123.3 L330.9 123.5 L331.9 123.8 L332.9 124.1 L333.9 124.6 L334.9 125.0 L335.9 125.6 L336.9 126.2 L337.9 126.8 L338.9 127.5 L339.9 128.2 L340.9 129.0 L341.9 129.7 L342.9 130.5 L343.9 131.3 L344.9 132.1 L345.9 132.9 L346.9 133.7 L347.9 134.4 L348.9 135.2 L349.9 135.9 L350.9 136.7 L351.9 137.4 L352.9 138.1 L353.9 138.8 L354.9 139.5 L355.9 140.2 L356.9 140.9 L357.9 141.6 L358.9 142.3 L359.9 143.0 L360.9 143.6 L361.9 144.3 L362.9 144.9 L363.9 145.5 L364.9 146.1 L365.9 146.7 L366.9 147.3 L367.9 147.8 L368.9 148.4 L369.9 148.9 L370.9 149.3 L371.9 149.8 L372.9 150.2 L373.9 150.5 L374.9 150.9 L375.9 151.2 L376.9 151.5 L377.9 151.7 L378.9 151.9 L379.9 152.1 L380.9 152.3 L381.9 152.4 L382.9 152.5 L383.9 152.6 L384.9 152.7 L385.9 152.7 L386.9 152.8 L387.9 152.8 L388.9 152.8 L389.9 152.8 L390.9 152.9 L391.9 152.9 L392.9 152.9 L393.9 152.9 L394.9 152.9 L395.9 152.9 L396.9 152.9 L397.9 152.9 L398.9 152.9 L399.9 152.9 L400.9 152.9 L401.9 152.9 L402.9 152.9 L403.9 152.9 L404.9 152.9 L405.9 152.9 L406.9 152.9 L407.9 152.9 L408.9 152.9 L409.9 152.9 L410.9 152.8 L411.9 152.8 L412.9 152.8 L413.9 152.8 L414.9 152.8 L415.9 152.8 L416.9 152.8 L417.9 152.8 L418.9 152.8 L419.9 152.7 L420.9 152.7 L421.9 152.7 L422.9 152.7 L423.9 152.7 L424.9 152.7 L425.9 152.6 L426.9 152.6 L427.9 152.6 L428.9 152.6 L429.9 152.5 L430.9 152.5 L431.9 152.5 L432.9 152.5 L433.9 152.4 L434.9 152.4 L435.9 152.4 L436.9 152.4 L437.9 152.3 L438.9 152.3 L439.9 152.3 L440.9 152.2 L441.9 152.2 L442.9 152.1 L443.9 152.1 L444.9 152.1 L445.9 152.0 L446.3 152.0" stroke="#808000" stroke-width="1.90" fill="none"/>
<path d="M57.5 140.2 L58.5 139.7 L59.5 139.2 L60.5 138.7 L61.5 138.1 L62.5 137.6 L63.5 137.1 L64.5 136.6 L65.5 136.1 L66.5 135.6 L67.5 135.0 L68.5 134.5 L69.5 134.0 L70.5 133.5 L71.5 133.0 L72.5 132.5 L73.5 131.9 L74.5 131.4 L75.5 130.9 L76.5 130.4 L77.5 129.9 L78.5 129.3 L79.5 128.8 L80.5 128.3 L81.5 127.8 L82.5 127.3 L83.5 126.7 L84.5 126.2 L85.5 125.7 L86.5 125.2 L87.5 124.7 L88.5 124.2 L89.5 123.6 L90.5 123.1 L91.5 122.6 L92.5 122.1 L93.5 121.6 L94.5 121.0 L95.5 120.5 L96.5 120.0 L97.5 119.5 L98.5 119.0 L99.5 118.5 L100.5 117.9 L101.5 117.4 L102.5 116.9 L103.5 116.4 L104.5 115.9 L105.5 115.4 L106.5 114.8 L107.5 114.3 L108.5 113.8 L109.5 113.3 L110.5 112.8 L111.5 112.3 L112.5 111.7 L113.5 111.2 L114.5 110.7 L115.5 110.2 L116.5 109.7 L117.5 109.2 L118.5 108.7 L119.5 108.2 L120.5 107.6 L121.5 107.1 L122.5 106.6 L123.5 106.1 L124.5 105.6 L125.5 105.1 L126.5 104.6 L127.5 104.1 L128.5 103.6 L129.5 103.1 L130.5 102.6 L131.5 102.1 L132.5 101.6 L133.5 101.1 L134.5 100.5 L135.5 100.0 L136.5 99.5 L137.5 99.0 L138.5 98.5 L139.5 98.0 L140.5 97.5 L141.5 97.0 L142.5 96.5 L143.5 96.0 L144.5 95.5 L145.5 95.0 L146.5 94.5 L147.5 94.0 L148.5 93.5 L149.5 93.0 L150.5 92.5 L151.5 92.0 L152.5 91.5 L153.5 91.0 L154.5 90.5 L155.5 90.1 L156.5 89.6 L157.5 89.1 L158.5 88.6 L159.5 88.1 L160.5 87.6 L161.5 87.1 L162.5 86.6 L163.5 86.2 L164.5 85.7 L165.5 85.2 L166.5 84.8 L167.5 84.3 L168.5 83.8 L169.5 83.3 L170.5 82.9 L171.5 82.4 L172.5 81.9 L173.5 81.4 L174.5 80.9 L175.5 80.4 L176.5 79.9 L177.5 79.4 L178.5 78.9 L179.5 78.4 L180.5 77.9 L181.5 77.4 L182.5 76.9 L183.5 76.4 L184.5 76.0 L185.5 75.6 L186.5 75.2 L187.5 74.8 L188.5 74.5 L189.5 74.2 L190.5 73.9 L191.5 73.7 L192.5 73.5 L193.5 73.3 L194.5 73.1 L195.5 73.0 L196.5 72.9 L197.5 72.8 L198.5 72.7 L199.5 72.6 L200.5 72.5 L201.5 72.4 L202.5 72.4 L203.5 72.3 L204.5 72.3 L205.5 72.3 L206.5 72.3 L207.5 72.3 L208.5 72.3 L209.5 72.3 L210.5 72.4 L211.5 72.4 L212.5 72.4 L213.5 72.5 L214.5 72.6 L215.5 72.6 L216.5 72.7 L217.5 72.8 L218.5 72.9 L219.5 73.0 L220.5 73.1 L221.5 73.1 L222.5 73.2 L223.5 73.3 L224.5 73.4 L225.5 73.5 L226.5 73.6 L227.5 73.7 L228.5 73.8 L229.5 73.9 L230.5 74.0 L231.5 74.1 L232.5 74.2 L233.5 74.3 L234.5 74.4 L235.5 74.5 L236.5 74.6 L237.5 74.7 L238.5 74.8 L239.5 74.9 L240.5 75.0 L241.5 75.1 L242.5 75.2 L243.5 75.3 L244.5 75.5 L245.5 75.6 L246.5 75.8 L247.5 75.9 L248.5 76.1 L249.5 76.2 L250.5 76.4 L251.5 76.6 L252.5 76.8 L253.5 77.0 L254.5 77.2 L255.5 77.4 L256.5 77.7 L257.5 77.9 L258.5 78.2 L259.5 78.4 L260.5 78.7 L261.5 79.0 L262.5 79.2 L263.5 79.5 L264.5 79.8 L265.5 80.1 L266.5 80.4 L267.5 80.7 L268.5 80.9 L269.5 81.2 L270.5 81.5 L271.5 81.8 L272.5 82.0 L273.5 82.3 L274.5 82.6 L275.5 82.8 L276.5 83.0 L277.5 83.2 L278.5 83.4 L279.5 83.6 L280.5 83.8 L281.5 83.9 L282.5 84.1 L283.5 84.2 L284.5 84.3 L285.5 84.4 L286.5 84.5 L287.5 84.6 L288.5 84.6 L289.5 84.7 L290.5 84.7 L291.5 84.7 L292.5 84.7 L293.5 84.6 L294.5 84.6 L295.5 84.5 L296.5 84.5 L297.5 84.4 L298.5 84.3 L299.5 84.2 L300.5 84.1 L301.5 84.0 L302.5 83.9 L303.5 83.8 L304.5 83.7 L305.5 83.5 L306.5 83.3 L307.5 83.1 L308.5 82.8 L309.5 82.5 L310.5 82.1 L311.5 81.7 L312.5 81.2 L313.5 80.7 L314.5 80.1 L315.5 79.4 L316.5 78.7 L317.5 78.0 L318.5 77.2 L319.5 76.4 L320.5 75.5 L321.5 74.6 L322.5 73.6 L323.5 72.6 L324.5 71.6 L325.5 70.5 L326.5 69.4 L327.5 68.2 L328.5 67.0 L329.5 65.8 L330.5 64.6 L331.5 63.4 L332.5 62.1 L333.5 60.9 L334.5 59.7 L335.5 58.5 L336.5 57.4 L337.5 56.3 L338.5 55.2 L339.5 54.2 L340.5 53.3 L341.5 52.4 L342.5 51.5 L343.5 50.7 L344.5 50.0 L345.5 49.3 L346.5 48.7 L347.5 48.1 L348.5 47.5 L349.5 47.0 L350.5 46.5 L351.5 46.1 L352.5 45.6 L353.5 45.2 L354.5 44.9 L355.5 44.5 L356.5 44.2 L357.5 43.9 L358.5 43.6 L359.5 43.3 L360.5 43.1 L361.5 42.8 L362.5 42.6 L363.5 42.4 L364.5 42.2 L365.5 42.0 L366.5 41.8 L367.5 41.7 L368.5 41.5 L369.5 41.4 L370.5 41.3 L371.5 41.2 L372.5 41.1 L373.5 41.0 L374.5 40.9 L375.5 40.8 L376.5 40.8 L377.5 40.7 L378.5 40.7 L379.5 40.7 L380.5 40.7 L381.5 40.7 L382.5 40.7 L383.5 40.7 L384.5 40.7 L385.5 40.8 L386.5 40.8 L387.5 40.9 L388.5 40.9 L389.5 41.0 L390.5 41.1 L391.5 41.1 L392.5 41.2 L393.5 41.3 L394.5 41.4 L395.5 41.5 L396.5 41.6 L397.5 41.7 L398.5 41.9 L399.5 42.0 L400.5 42.1 L401.5 42.2 L402.5 42.4 L403.5 42.5 L404.5 42.7 L405.5 42.8 L406.5 42.9 L407.5 43.1 L408.5 43.3 L409.5 43.4 L410.5 43.6 L411.5 43.7 L412.5 43.9 L413.5 44.0 L414.5 44.2 L415.5 44.4 L416.5 44.5 L417.5 44.7 L418.5 44.8 L419.5 45.0 L420.5 45.1 L421.5 45.3 L422.5 45.5 L423.5 45.6 L424.5 45.8 L425.5 45.9 L426.5 46.0 L427.5 46.2 L428.5 46.3 L429.5 46.5 L430.5 46.6 L431.5 46.7 L432.5 46.8 L433.5 46.9 L434.5 47.1 L435.5 47.2 L436.5 47.3 L437.5 47.4 L438.5 47.4 L439.5 47.5 L440.5 47.6 L441.5 47.7 L442.5 47.7 L443.5 47.8 L444.5 47.8 L445.5 47.9 L446.3 47.9" stroke="#aa2626" stroke-width="1.40" fill="none" stroke-dasharray="5.95 4.37" stroke-dashoffset="2.20"/>
<path d="M330.5 94.5 L331.5 94.9 L332.5 95.3 L333.5 95.7 L334.5 96.1 L335.5 96.5 L336.5 96.9 L337.5 97.3 L338.5 97.6 L339.5 98.0 L340.5 98.3 L341.5 98.7 L342.5 99.0 L343.5 99.4 L344.5 99.6 L345.5 99.9 L346.5 100.1 L347.5 100.2 L348.5 100.3 L349.5 100.3 L350.5 100.3 L351.5 100.3 L352.5 100.2 L353.5 100.1 L354.5 99.9 L355.5 99.7 L356.5 99.6 L357.5 99.4 L358.5 99.2 L359.5 99.0 L360.5 98.9 L361.5 98.7 L362.5 98.5 L363.5 98.4 L364.5 98.2 L365.5 98.1 L366.5 97.9 L367.5 97.7 L368.5 97.6 L369.5 97.4 L370.5 97.2 L371.5 97.0 L372.5 96.8 L373.5 96.6 L374.5 96.4 L375.5 96.2 L376.5 95.9 L377.5 95.7 L378.5 95.4 L379.5 95.1 L380.5 94.8 L381.5 94.5 L382.5 94.2 L383.5 93.9 L384.5 93.5 L385.5 93.2 L386.5 92.8 L387.5 92.4 L388.5 92.0 L389.5 91.5 L390.5 91.1 L391.5 90.6 L392.5 89.9 L393.5 89.3 L394.5 88.4 L395.5 87.5 L396.5 86.4 L397.5 85.2 L398.5 83.7 L399.5 82.0 L400.5 80.2 L401.5 78.1 L402.5 76.0 L403.5 73.9 L404.5 72.0 L405.5 70.2 L406.5 68.6 L407.5 67.1 L408.5 65.7 L409.5 64.4 L410.5 63.3 L411.5 62.2 L412.5 61.2 L413.5 60.3 L414.5 59.5 L415.5 58.8 L416.5 58.1 L417.5 57.4 L418.5 56.9 L419.5 56.3 L420.5 55.9 L421.5 55.5 L422.5 55.1 L423.5 54.8 L424.5 54.5 L425.5 54.3 L426.5 54.1 L427.5 53.9 L428.5 53.7 L429.5 53.6 L430.5 53.5 L431.5 53.5 L432.5 53.4 L433.5 53.4 L434.5 53.3 L435.5 53.3 L436.5 53.3 L437.5 53.3 L438.5 53.3 L439.5 53.3 L440.5 53.3 L441.5 53.3 L442.5 53.3 L443.5 53.2 L444.5 53.2 L445.5 53.1 L446.3 53.0" stroke="#000000" stroke-width="1.80" fill="none" stroke-dasharray="5.95 4.37" stroke-dashoffset="5.32"/>
<path d="M300.5 83.5 L301.5 83.2 L302.5 82.9 L303.5 82.6 L304.5 82.3 L305.5 81.9 L306.5 81.5 L307.5 81.1 L308.5 80.7 L309.5 80.3 L310.5 79.8 L311.5 79.4 L312.5 79.0 L313.5 78.5 L314.5 77.9 L315.5 77.3 L316.5 76.7 L317.5 75.9 L318.5 75.0 L319.5 74.0 L320.5 72.8 L321.5 71.6 L322.5 70.3 L323.5 69.0 L324.5 67.5 L325.5 66.1 L326.5 64.6 L327.5 63.2 L328.5 61.8 L329.5 60.3 L330.5 59.0 L331.5 57.7 L332.5 56.4 L333.5 55.2 L334.5 54.1 L335.5 53.0 L336.5 51.9 L337.5 50.9 L338.5 50.0 L339.5 49.1 L340.5 48.3 L341.5 47.5 L342.5 46.8 L343.5 46.1 L344.5 45.5 L345.5 44.9 L346.5 44.4 L347.5 43.9 L348.5 43.5 L349.5 43.1 L350.5 42.7 L351.5 42.3 L352.5 42.0 L353.5 41.8 L354.5 41.5 L355.5 41.3 L356.5 41.1 L357.5 40.9 L358.5 40.8 L359.5 40.7 L360.5 40.6 L361.5 40.5 L362.5 40.4 L363.5 40.3 L364.5 40.3 L365.5 40.3 L366.5 40.3 L367.5 40.3 L368.5 40.3 L369.5 40.3 L370.5 40.3 L371.5 40.4 L372.5 40.4 L373.5 40.5 L374.5 40.5 L375.5 40.6 L376.5 40.7 L377.5 40.8 L378.5 40.9 L379.5 41.0 L380.5 41.1 L381.5 41.2 L382.5 41.3 L383.5 41.5 L384.5 41.6 L385.5 41.8 L386.5 41.9 L387.5 42.1 L388.5 42.2 L389.5 42.4 L390.5 42.5 L391.5 42.7 L392.5 42.9 L393.5 43.1 L394.5 43.3 L395.5 43.4 L396.5 43.6 L397.5 43.8 L398.5 44.0 L399.5 44.2 L400.5 44.4 L401.5 44.6 L402.5 44.8 L403.5 44.9 L404.5 45.1 L405.5 45.3 L406.5 45.5 L407.5 45.7 L408.5 45.9 L409.5 46.1 L410.5 46.3 L411.5 46.4 L412.5 46.6 L413.5 46.8 L414.5 47.0 L415.5 47.2 L416.5 47.3 L417.5 47.5 L418.5 47.7 L419.5 47.9 L420.5 48.0 L421.5 48.2 L422.5 48.4 L423.5 48.5 L424.5 48.7 L425.5 48.9 L426.5 49.0 L427.5 49.2 L428.5 49.4 L429.5 49.5 L430.5 49.7 L431.5 49.8 L432.5 50.0 L433.5 50.2 L434.5 50.3 L435.5 50.5 L436.5 50.6 L437.5 50.8 L438.5 50.9 L439.5 51.1 L440.5 51.2 L441.5 51.3 L442.5 51.5 L443.5 51.6 L444.5 51.8 L445.5 51.9 L446.3 52.0" stroke="#8b008b" stroke-width="1.80" fill="none" stroke-dasharray="5.95 4.37" stroke-dashoffset="4.27"/>
<path d="M290.5 84.7 L291.5 84.7 L292.5 84.6 L293.5 84.6 L294.5 84.5 L295.5 84.4 L296.5 84.3 L297.5 84.2 L298.5 84.0 L299.5 83.7 L300.5 83.5 L301.5 83.2 L302.5 82.9 L303.5 82.6 L304.5 82.3 L305.5 81.9 L306.5 81.5 L307.5 81.1 L308.5 80.7 L309.5 80.3 L310.5 79.8 L311.5 79.4 L312.5 79.0 L313.5 78.5 L314.5 77.9 L315.5 77.3 L316.5 76.7 L317.5 75.9 L318.5 75.0 L319.5 74.0 L320.5 72.8 L321.5 71.6 L322.5 70.3 L323.5 69.0 L324.5 67.5 L325.5 66.1 L326.5 64.6 L327.5 63.2 L328.5 61.8 L329.5 60.3 L330.5 59.0 L331.5 57.7 L332.5 56.5 L333.5 55.3 L334.5 54.2 L335.5 53.1 L336.5 52.1 L337.5 51.2 L338.5 50.3 L339.5 49.4 L340.5 48.6 L341.5 47.9 L342.5 47.2 L343.5 46.5 L344.5 45.9 L345.5 45.4 L346.5 44.9 L347.5 44.4 L348.5 43.9 L349.5 43.5 L350.5 43.1 L351.5 42.8 L352.5 42.5 L353.5 42.2 L354.5 42.0 L355.5 41.7 L356.5 41.5 L357.5 41.4 L358.5 41.2 L359.5 41.1 L360.5 41.0 L361.5 40.9 L362.5 40.8 L363.5 40.8 L364.5 40.8 L365.5 40.7 L366.5 40.7 L367.5 40.7 L368.5 40.7 L369.5 40.7 L370.5 40.8 L371.5 40.8 L372.5 40.9 L373.5 40.9 L374.5 41.0 L375.5 41.1 L376.5 41.1 L377.5 41.2 L378.5 41.3 L379.5 41.4 L380.5 41.5 L381.5 41.7 L382.5 41.8 L383.5 41.9 L384.5 42.1 L385.5 42.2 L386.5 42.4 L387.5 42.5 L388.5 42.7 L389.5 42.8 L390.5 43.0 L391.5 43.2 L392.5 43.3 L393.5 43.5 L394.5 43.7 L395.5 43.9 L396.5 44.1 L397.5 44.3 L398.5 44.4 L399.5 44.6 L400.5 44.8 L401.5 45.0 L402.5 45.2 L403.5 45.4 L404.5 45.6 L405.5 45.8 L406.5 46.0 L407.5 46.2 L408.5 46.3 L409.5 46.5 L410.5 46.7 L411.5 46.9 L412.5 47.1 L413.5 47.3 L414.5 47.4 L415.5 47.6 L416.5 47.8 L417.5 48.0 L418.5 48.1 L419.5 48.3 L420.5 48.5 L421.5 48.7 L422.5 48.8 L423.5 49.0 L424.5 49.2 L425.5 49.3 L426.5 49.5 L427.5 49.7 L428.5 49.8 L429.5 50.0 L430.5 50.1 L431.5 50.3 L432.5 50.4 L433.5 50.6 L434.5 50.8 L435.5 50.9 L436.5 51.1 L437.5 51.2 L438.5 51.4 L439.5 51.5 L440.5 51.7 L441.5 51.8 L442.5 51.9 L443.5 52.1 L444.5 52.2 L445.5 52.4 L446.3 52.5" stroke="#ff0000" stroke-width="1.80" fill="none" stroke-dasharray="5.95 4.37" stroke-dashoffset="4.49"/>
<path d="M300.5 86.0 L301.5 86.2 L302.5 86.4 L303.5 86.5 L304.5 86.7 L305.5 86.9 L306.5 87.2 L307.5 87.4 L308.5 87.6 L309.5 87.8 L310.5 88.1 L311.5 88.3 L312.5 88.6 L313.5 88.9 L314.5 89.1 L315.5 89.4 L316.5 89.7 L317.5 90.0 L318.5 90.3 L319.5 90.6 L320.5 90.9 L321.5 91.2 L322.5 91.6 L323.5 91.9 L324.5 92.3 L325.5 92.6 L326.5 93.0 L327.5 93.3 L328.5 93.7 L329.5 94.1 L330.5 94.5 L331.5 94.9 L332.5 95.4 L333.5 95.9 L334.5 96.4 L335.5 96.9 L336.5 97.5 L337.5 98.1 L338.5 98.6 L339.5 99.2 L340.5 99.8 L341.5 100.4 L342.5 100.9 L343.5 101.5 L344.5 102.0 L345.5 102.5 L346.5 103.0 L347.5 103.5 L348.5 104.0 L349.5 104.5 L350.5 105.1 L351.5 105.6 L352.5 106.2 L353.5 106.7 L354.5 107.3 L355.5 107.8 L356.5 108.4 L357.5 109.0 L358.5 109.6 L359.5 110.1 L360.5 110.7 L361.5 111.3 L362.5 111.8 L363.5 112.4 L364.5 112.9 L365.5 113.4 L366.5 113.9 L367.5 114.4 L368.5 114.8 L369.5 115.2 L370.5 115.5 L371.5 115.8 L372.5 116.0 L373.5 116.2 L374.5 116.4 L375.5 116.4 L376.5 116.4 L377.5 116.4 L378.5 116.3 L379.5 116.1 L380.5 115.8 L381.5 115.4 L382.5 115.0 L383.5 114.4 L384.5 113.8 L385.5 113.0 L386.5 112.2 L387.5 111.3 L388.5 110.2 L389.5 109.0 L390.5 107.7 L391.5 106.2 L392.5 104.5 L393.5 102.7 L394.5 100.7 L395.5 98.5 L396.5 96.1 L397.5 93.5 L398.5 90.6 L399.5 87.4 L400.5 84.0 L401.5 80.7 L402.5 78.0 L403.5 75.6 L404.5 73.6 L405.5 71.8 L406.5 70.3 L407.5 68.9 L408.5 67.6 L409.5 66.4 L410.5 65.2 L411.5 64.1 L412.5 63.0 L413.5 62.0 L414.5 61.1 L415.5 60.2 L416.5 59.4 L417.5 58.6 L418.5 57.9 L419.5 57.2 L420.5 56.6 L421.5 56.0 L422.5 55.5 L423.5 55.0 L424.5 54.5 L425.5 54.1 L426.5 53.7 L427.5 53.4 L428.5 53.0 L429.5 52.7 L430.5 52.5 L431.5 52.3 L432.5 52.1 L433.5 51.9 L434.5 51.8 L435.5 51.7 L436.5 51.5 L437.5 51.4 L438.5 51.3 L439.5 51.2 L440.5 51.2 L441.5 51.1 L442.5 51.0 L443.5 50.9 L444.5 50.8 L445.5 50.7 L446.3 50.6" stroke="#ffa500" stroke-width="1.80" fill="none" stroke-dasharray="5.95 4.37" stroke-dashoffset="3.46"/>
<path d="M285.5 84.4 L286.5 84.5 L287.5 84.6 L288.5 84.6 L289.5 84.7 L290.5 84.8 L291.5 84.8 L292.5 84.9 L293.5 85.0 L294.5 85.2 L295.5 85.3 L296.5 85.5 L297.5 85.6 L298.5 85.7 L299.5 85.9 L300.5 86.0 L301.5 86.2 L302.5 86.4 L303.5 86.5 L304.5 86.7 L305.5 86.9 L306.5 87.2 L307.5 87.4 L308.5 87.6 L309.5 87.8 L310.5 88.1 L311.5 88.3 L312.5 88.6 L313.5 88.9 L314.5 89.1 L315.5 89.4 L316.5 89.7 L317.5 90.0 L318.5 90.3 L319.5 90.6 L320.5 90.9 L321.5 91.2 L322.5 91.6 L323.5 91.9 L324.5 92.3 L325.5 92.6 L326.5 93.0 L327.5 93.3 L328.5 93.7 L329.5 94.1 L330.5 94.5 L331.5 94.9 L332.5 95.3 L333.5 95.7 L334.5 96.1 L335.5 96.5 L336.5 97.0 L337.5 97.4 L338.5 97.9 L339.5 98.3 L340.5 98.8 L341.5 99.2 L342.5 99.7 L343.5 100.2 L344.5 100.7 L345.5 101.2 L346.5 101.7 L347.5 102.2 L348.5 102.7 L349.5 103.2 L350.5 103.8 L351.5 104.3 L352.5 104.9 L353.5 105.4 L354.5 106.0 L355.5 106.5 L356.5 107.1 L357.5 107.7 L358.5 108.3 L359.5 108.8 L360.5 109.4 L361.5 110.0 L362.5 110.5 L363.5 111.1 L364.5 111.6 L365.5 112.1 L366.5 112.6 L367.5 113.1 L368.5 113.5 L369.5 113.9 L370.5 114.2 L371.5 114.5 L372.5 114.7 L373.5 114.9 L374.5 115.1 L375.5 115.1 L376.5 115.1 L377.5 115.1 L378.5 115.0 L379.5 114.8 L380.5 114.5 L381.5 114.1 L382.5 113.7 L383.5 113.1 L384.5 112.5 L385.5 111.7 L386.5 110.9 L387.5 110.0 L388.5 108.9 L389.5 107.7 L390.5 106.4 L391.5 104.9 L392.5 103.2 L393.5 101.4 L394.5 99.4 L395.5 97.2 L396.5 94.8 L397.5 92.2 L398.5 89.3 L399.5 86.1 L400.5 82.7 L401.5 79.4 L402.5 76.7 L403.5 74.3 L404.5 72.3 L405.5 70.5 L406.5 69.0 L407.5 67.6 L408.5 66.3 L409.5 65.1 L410.5 63.9 L411.5 62.9 L412.5 61.8 L413.5 60.9 L414.5 60.0 L415.5 59.2 L416.5 58.4 L417.5 57.7 L418.5 57.0 L419.5 56.4 L420.5 55.8 L421.5 55.3 L422.5 54.8 L423.5 54.4 L424.5 53.9 L425.5 53.6 L426.5 53.2 L427.5 52.9 L428.5 52.7 L429.5 52.4 L430.5 52.2 L431.5 52.0 L432.5 51.8 L433.5 51.6 L434.5 51.5 L435.5 51.4 L436.5 51.2 L437.5 51.1 L438.5 51.0 L439.5 50.9 L440.5 50.9 L441.5 50.8 L442.5 50.7 L443.5 50.6 L444.5 50.5 L445.5 50.4 L446.3 50.3" stroke="#0000ff" stroke-width="1.80" fill="none" stroke-dasharray="5.95 4.37" stroke-dashoffset="9.80"/>
<path d="M300.5 84.1 L301.5 84.0 L302.5 83.9 L303.5 83.8 L304.5 83.7 L305.5 83.5 L306.5 83.3 L307.5 83.1 L308.5 82.8 L309.5 82.5 L310.5 82.1 L311.5 81.7 L312.5 81.2 L313.5 80.7 L314.5 80.1 L315.5 79.4 L316.5 78.7 L317.5 78.0 L318.5 77.2 L319.5 76.4 L320.5 75.5 L321.5 74.6 L322.5 73.6 L323.5 72.6 L324.5 71.6 L325.5 70.5 L326.5 69.4 L327.5 68.2 L328.5 67.0 L329.5 65.8 L330.5 64.6 L331.5 63.4 L332.5 62.1 L333.5 60.9 L334.5 59.6 L335.5 58.4 L336.5 57.2 L337.5 56.1 L338.5 55.0 L339.5 53.9 L340.5 53.0 L341.5 52.0 L342.5 51.2 L343.5 50.4 L344.5 49.6 L345.5 48.9 L346.5 48.3 L347.5 47.7 L348.5 47.1 L349.5 46.6 L350.5 46.1 L351.5 45.7 L352.5 45.2 L353.5 44.8 L354.5 44.5 L355.5 44.1 L356.5 43.8 L357.5 43.5 L358.5 43.2 L359.5 42.9 L360.5 42.7 L361.5 42.4 L362.5 42.2 L363.5 42.0 L364.5 41.8 L365.5 41.6 L366.5 41.4 L367.5 41.3 L368.5 41.1 L369.5 41.0 L370.5 40.9 L371.5 40.8 L372.5 40.7 L373.5 40.6 L374.5 40.5 L375.5 40.4 L376.5 40.4 L377.5 40.3 L378.5 40.3 L379.5 40.3 L380.5 40.3 L381.5 40.3 L382.5 40.3 L383.5 40.3 L384.5 40.3 L385.5 40.4 L386.5 40.4 L387.5 40.5 L388.5 40.5 L389.5 40.6 L390.5 40.7 L391.5 40.7 L392.5 40.8 L393.5 40.9 L394.5 41.0 L395.5 41.1 L396.5 41.2 L397.5 41.3 L398.5 41.5 L399.5 41.6 L400.5 41.7 L401.5 41.8 L402.5 42.0 L403.5 42.1 L404.5 42.3 L405.5 42.4 L406.5 42.5 L407.5 42.7 L408.5 42.9 L409.5 43.0 L410.5 43.2 L411.5 43.3 L412.5 43.5 L413.5 43.6 L414.5 43.8 L415.5 44.0 L416.5 44.1 L417.5 44.3 L418.5 44.4 L419.5 44.6 L420.5 44.7 L421.5 44.9 L422.5 45.1 L423.5 45.2 L424.5 45.4 L425.5 45.5 L426.5 45.6 L427.5 45.8 L428.5 45.9 L429.5 46.1 L430.5 46.2 L431.5 46.3 L432.5 46.4 L433.5 46.5 L434.5 46.7 L435.5 46.8 L436.5 46.9 L437.5 47.0 L438.5 47.0 L439.5 47.1 L440.5 47.2 L441.5 47.3 L442.5 47.3 L443.5 47.4 L444.5 47.4 L445.5 47.5 L446.3 47.5" stroke="#0a830a" stroke-width="1.80" fill="none" stroke-dasharray="5.95 4.37" stroke-dashoffset="4.19"/>
<path d="M57.5 140.2 L58.5 139.7 L59.5 139.2 L60.5 138.7 L61.5 138.1 L62.5 137.6 L63.5 137.1 L64.5 136.6 L65.5 136.1 L66.5 135.6 L67.5 135.0 L68.5 134.5 L69.5 134.0 L70.5 133.5 L71.5 133.0 L72.5 132.5 L73.5 131.9 L74.5 131.4 L75.5 130.9 L76.5 130.4 L77.5 129.9 L78.5 129.3 L79.5 128.8 L80.5 128.3 L81.5 127.8 L82.5 127.3 L83.5 126.7 L84.5 126.2 L85.5 125.7 L86.5 125.2 L87.5 124.7 L88.5 124.2 L89.5 123.6 L90.5 123.1 L91.5 122.6 L92.5 122.1 L93.5 121.6 L94.5 121.0 L95.5 120.5 L96.5 120.0 L97.5 119.5 L98.5 119.0 L99.5 118.5 L100.5 117.9 L101.5 117.4 L102.5 116.9 L103.5 116.4 L104.5 115.9 L105.5 115.4 L106.5 114.8 L107.5 114.3 L108.5 113.8 L109.5 113.3 L110.5 112.8 L111.5 112.3 L112.5 111.7 L113.5 111.2 L114.5 110.7 L115.5 110.2 L116.5 109.7 L117.5 109.2 L118.5 108.7 L119.5 108.2 L120.5 107.6 L121.5 107.1 L122.5 106.6 L123.5 106.1 L124.5 105.6 L125.5 105.1 L126.5 104.6 L127.5 104.1 L128.5 103.6 L129.5 103.1 L130.5 102.6 L131.5 102.1 L132.5 101.6 L133.5 101.1 L134.5 100.5 L135.5 100.0 L136.5 99.5 L137.5 99.0 L138.5 98.5 L139.5 98.0 L140.5 97.5 L141.5 97.0 L142.5 96.5 L143.5 96.0 L144.5 95.5 L145.5 95.0 L146.5 94.5 L147.5 94.0 L148.5 93.5 L149.5 93.0 L150.5 92.5 L151.5 92.0 L152.5 91.5 L153.5 91.0 L154.5 90.5 L155.5 90.1 L156.5 89.6 L157.5 89.1 L158.5 88.6 L159.5 88.1 L160.5 87.6 L161.5 87.1 L162.5 86.6 L163.5 86.2 L164.5 85.7 L165.5 85.2 L166.5 84.8 L167.5 84.3 L168.5 83.8 L169.5 83.3 L170.5 82.9 L171.5 82.4 L172.5 81.9 L173.5 81.4 L174.5 80.9 L175.5 80.4 L176.5 79.9 L177.5 79.4 L178.5 78.9 L179.5 78.4 L180.5 77.9 L181.5 77.4 L182.5 76.9 L183.5 76.4 L184.5 76.0 L185.5 75.6 L186.5 75.2 L187.5 74.8 L188.5 74.5 L189.5 74.2 L190.5 73.9 L191.5 73.7 L192.5 73.5 L193.5 73.3 L194.5 73.1 L195.5 73.0 L196.5 72.9 L197.5 72.8 L198.5 72.7 L199.5 72.6 L200.5 72.5 L201.5 72.4 L202.5 72.4 L203.5 72.3 L204.5 72.3 L205.5 72.3 L206.5 72.3 L207.5 72.3 L208.5 72.3 L209.5 72.3 L210.5 72.4 L211.5 72.4 L212.5 72.4 L213.5 72.5 L214.5 72.6 L215.5 72.6 L216.5 72.7 L217.5 72.8 L218.5 72.9 L219.5 73.0 L220.5 73.1 L221.5 73.1 L222.5 73.2 L223.5 73.3 L224.5 73.4 L225.5 73.5 L226.5 73.6 L227.5 73.7 L228.5 73.8 L229.5 73.9 L230.5 74.0 L231.5 74.1 L232.5 74.2 L233.5 74.3 L234.5 74.4 L235.5 74.5 L236.5 74.6 L237.5 74.7 L238.5 74.8 L239.5 74.9 L240.5 75.0 L241.5 75.1 L242.5 75.2 L243.5 75.3 L244.5 75.5 L245.5 75.6 L246.5 75.8 L247.5 75.9 L248.5 76.1 L249.5 76.2 L250.5 76.4 L251.5 76.6 L252.5 76.8 L253.5 77.0 L254.5 77.2 L255.5 77.4 L256.5 77.7 L257.5 77.9 L258.5 78.2 L259.5 78.4 L260.5 78.7 L261.5 79.0 L262.5 79.2 L263.5 79.5 L264.5 79.8 L265.5 80.1 L266.5 80.4 L267.5 80.7 L268.5 80.9 L269.5 81.2 L270.5 81.5 L271.5 81.8 L272.5 82.0 L273.5 82.3 L274.5 82.6 L275.5 82.8 L276.5 83.0 L277.5 83.2 L278.5 83.4 L279.5 83.6 L280.5 83.8 L281.5 83.9 L282.5 84.1 L283.5 84.2 L284.5 84.3 L285.5 84.4 L286.5 84.5 L287.5 84.6 L288.5 84.6 L289.5 84.7 L290.5 84.7 L291.5 84.7 L292.5 84.7 L293.5 84.6 L294.5 84.6 L295.5 84.5 L296.5 84.5 L297.5 84.4 L298.5 84.3 L299.5 84.2 L300.5 84.1 L301.5 84.0 L302.5 83.9 L303.5 83.8 L304.5 83.7 L305.5 83.5 L306.5 83.3 L307.5 83.1 L308.5 82.8 L309.5 82.5 L310.5 82.1 L311.5 81.7 L312.5 81.2 L313.5 80.7 L314.5 80.1 L315.5 79.4 L316.5 78.7 L317.5 78.0 L318.5 77.2 L319.5 76.4 L320.5 75.5 L321.5 74.6 L322.5 73.6 L323.5 72.6 L324.5 71.6 L325.5 70.5 L326.5 69.4 L327.5 68.2 L328.5 67.0 L329.5 65.8 L330.5 64.6 L331.5 63.4 L332.5 62.1 L333.5 60.9 L334.5 59.7 L335.5 58.5 L336.5 57.4 L337.5 56.3 L338.5 55.2 L339.5 54.2 L340.5 53.3 L341.5 52.4 L342.5 51.5 L343.5 50.7 L344.5 50.0 L345.5 49.3 L346.5 48.7 L347.5 48.1 L348.5 47.5 L349.5 47.0 L350.5 46.5 L351.5 46.1 L352.5 45.6 L353.5 45.2 L354.5 44.9 L355.5 44.5 L356.5 44.2 L357.5 43.9 L358.5 43.6 L359.5 43.3 L360.5 43.1 L361.5 42.8 L362.5 42.6 L363.5 42.4 L364.5 42.2 L365.5 42.0 L366.5 41.8 L367.5 41.7 L368.5 41.5 L369.5 41.4 L370.5 41.3 L371.5 41.2 L372.5 41.1 L373.5 41.0 L374.5 40.9 L375.5 40.8 L376.5 40.8 L377.5 40.7 L378.5 40.7 L379.5 40.7 L380.5 40.7 L381.5 40.7 L382.5 40.7 L383.5 40.7 L384.5 40.7 L385.5 40.8 L386.5 40.8 L387.5 40.9 L388.5 40.9 L389.5 41.0 L390.5 41.1 L391.5 41.1 L392.5 41.2 L393.5 41.3 L394.5 41.4 L395.5 41.5 L396.5 41.6 L397.5 41.7 L398.5 41.9 L399.5 42.0 L400.5 42.1 L401.5 42.2 L402.5 42.4 L403.5 42.5 L404.5 42.7 L405.5 42.8 L406.5 42.9 L407.5 43.1 L408.5 43.3 L409.5 43.4 L410.5 43.6 L411.5 43.7 L412.5 43.9 L413.5 44.0 L414.5 44.2 L415.5 44.4 L416.5 44.5 L417.5 44.7 L418.5 44.8 L419.5 45.0 L420.5 45.1 L421.5 45.3 L422.5 45.5 L423.5 45.6 L424.5 45.8 L425.5 45.9 L426.5 46.0 L427.5 46.2 L428.5 46.3 L429.5 46.5 L430.5 46.6 L431.5 46.7 L432.5 46.8 L433.5 46.9 L434.5 47.1 L435.5 47.2 L436.5 47.3 L437.5 47.4 L438.5 47.4 L439.5 47.5 L440.5 47.6 L441.5 47.7 L442.5 47.7 L443.5 47.8 L444.5 47.8 L445.5 47.9 L446.3 47.9" stroke="#808000" stroke-width="1.80" fill="none" stroke-dasharray="5.95 4.37" stroke-dashoffset="2.20"/>
</g></g>
<path d="M80.90 272.30v-2.60M80.90 17.60v2.60M94.58 272.30v-2.60M94.58 17.60v2.60M104.29 272.30v-2.60M104.29 17.60v2.60M111.82 272.30v-2.60M111.82 17.60v2.60M117.98 272.30v-2.60M117.98 17.60v2.60M123.18 272.30v-2.60M123.18 17.60v2.60M127.69 272.30v-2.60M127.69 17.60v2.60M131.66 272.30v-2.60M131.66 17.60v2.60M135.22 272.30v-5.20M135.22 17.60v5.20M158.62 272.30v-2.60M158.62 17.60v2.60M172.30 272.30v-2.60M172.30 17.60v2.60M182.01 272.30v-2.60M182.01 17.60v2.60M189.54 272.30v-2.60M189.54 17.60v2.60M195.70 272.30v-2.60M195.70 17.60v2.60M200.90 272.30v-2.60M200.90 17.60v2.60M205.41 272.30v-2.60M205.41 17.60v2.60M209.38 272.30v-2.60M209.38 17.60v2.60M212.94 272.30v-5.20M212.94 17.60v5.20M236.34 272.30v-2.60M236.34 17.60v2.60M250.02 272.30v-2.60M250.02 17.60v2.60M259.73 272.30v-2.60M259.73 17.60v2.60M267.26 272.30v-2.60M267.26 17.60v2.60M273.42 272.30v-2.60M273.42 17.60v2.60M278.62 272.30v-2.60M278.62 17.60v2.60M283.13 272.30v-2.60M283.13 17.60v2.60M287.10 272.30v-2.60M287.10 17.60v2.60M290.66 272.30v-5.20M290.66 17.60v5.20M314.06 272.30v-2.60M314.06 17.60v2.60M327.74 272.30v-2.60M327.74 17.60v2.60M337.45 272.30v-2.60M337.45 17.60v2.60M344.98 272.30v-2.60M344.98 17.60v2.60M351.14 272.30v-2.60M351.14 17.60v2.60M356.34 272.30v-2.60M356.34 17.60v2.60M360.85 272.30v-2.60M360.85 17.60v2.60M364.82 272.30v-2.60M364.82 17.60v2.60M368.38 272.30v-5.20M368.38 17.60v5.20M391.78 272.30v-2.60M391.78 17.60v2.60M405.46 272.30v-2.60M405.46 17.60v2.60M415.17 272.30v-2.60M415.17 17.60v2.60M422.70 272.30v-2.60M422.70 17.60v2.60M428.86 272.30v-2.60M428.86 17.60v2.60M434.06 272.30v-2.60M434.06 17.60v2.60M438.57 272.30v-2.60M438.57 17.60v2.60M442.54 272.30v-2.60M442.54 17.60v2.60M57.50 259.52h7.6M446.10 259.52h-7.6M57.50 217.07h7.6M446.10 217.07h-7.6M57.50 174.62h7.6M446.10 174.62h-7.6M57.50 132.17h7.6M446.10 132.17h-7.6M57.50 89.72h7.6M446.10 89.72h-7.6M57.50 47.27h7.6M446.10 47.27h-7.6" stroke="#3a3a3a" stroke-width="1.3" fill="none"/>
<rect x="57.50" y="17.60" width="388.60" height="254.70" fill="none" stroke="#444" stroke-width="1.4"/>
<text class="t" y="12.45" style="font-size:12.1px"><tspan x="169.40" textLength="24.20" lengthAdjust="spacingAndGlyphs">NH3</tspan> <tspan x="201.60" y="11.80" textLength="7.00" lengthAdjust="spacingAndGlyphs">–</tspan> <tspan x="215.40" y="12.45" textLength="61.80" lengthAdjust="spacingAndGlyphs">Desorption</tspan> <tspan x="283.30" textLength="49.50" lengthAdjust="spacingAndGlyphs">Variance</tspan></text>
<text class="t" y="305.0"><tspan x="194.10" textLength="23.40" lengthAdjust="spacingAndGlyphs">Log</tspan> <tspan x="224.60" textLength="29.00" lengthAdjust="spacingAndGlyphs">Time</tspan> <tspan x="262.00" textLength="46.00" lengthAdjust="spacingAndGlyphs">(Years)</tspan></text>
<g transform="translate(11.3,0) rotate(-90)">
<text class="t" x="-210.90" y="0.00" textLength="20.80" lengthAdjust="spacingAndGlyphs">Log</text>
<text class="t" x="-181.90" y="0.00" textLength="71.40" lengthAdjust="spacingAndGlyphs">Abundance</text>
<text class="t" transform="translate(-104.7,2.7) skewX(-14)" style="font-size:19.5px;stroke-width:0">/</text>
<text class="t" x="-88.20" y="0.00" textLength="8.20" lengthAdjust="spacingAndGlyphs">H</text>
</g>
<text class="tk"><tspan x="47.30" y="292.20" textLength="15.40" lengthAdjust="spacingAndGlyphs" style="font-size:13.9px">10</tspan><tspan x="62.70" y="286.00" textLength="7.80" lengthAdjust="spacingAndGlyphs" style="font-size:13.9px">3</tspan></text>
<text class="tk"><tspan x="125.02" y="292.20" textLength="15.40" lengthAdjust="spacingAndGlyphs" style="font-size:13.9px">10</tspan><tspan x="140.42" y="286.00" textLength="7.80" lengthAdjust="spacingAndGlyphs" style="font-size:13.9px">4</tspan></text>
<text class="tk"><tspan x="202.74" y="292.20" textLength="15.40" lengthAdjust="spacingAndGlyphs" style="font-size:13.9px">10</tspan><tspan x="218.14" y="286.00" textLength="7.80" lengthAdjust="spacingAndGlyphs" style="font-size:13.9px">5</tspan></text>
<text class="tk"><tspan x="280.46" y="292.20" textLength="15.40" lengthAdjust="spacingAndGlyphs" style="font-size:13.9px">10</tspan><tspan x="295.86" y="286.00" textLength="7.80" lengthAdjust="spacingAndGlyphs" style="font-size:13.9px">6</tspan></text>
<text class="tk"><tspan x="358.18" y="292.20" textLength="15.40" lengthAdjust="spacingAndGlyphs" style="font-size:13.9px">10</tspan><tspan x="373.58" y="286.00" textLength="7.80" lengthAdjust="spacingAndGlyphs" style="font-size:13.9px">7</tspan></text>
<text class="tk"><tspan x="435.90" y="292.20" textLength="15.40" lengthAdjust="spacingAndGlyphs" style="font-size:13.9px">10</tspan><tspan x="451.30" y="286.00" textLength="7.80" lengthAdjust="spacingAndGlyphs" style="font-size:13.9px">8</tspan></text>
<text class="tk"><tspan x="20.80" y="265.32" textLength="15.60" lengthAdjust="spacingAndGlyphs" style="font-size:14.6px">10</tspan><tspan x="35.80" y="258.82" textLength="6.40" lengthAdjust="spacingAndGlyphs" style="font-size:12.8px">-</tspan><tspan x="41.40" y="258.82" textLength="13.20" lengthAdjust="spacingAndGlyphs" style="font-size:12.8px">10</tspan></text>
<text class="tk"><tspan x="25.20" y="222.97" textLength="16.00" lengthAdjust="spacingAndGlyphs" style="font-size:14.6px">10</tspan><tspan x="41.40" y="216.37" textLength="6.00" lengthAdjust="spacingAndGlyphs" style="font-size:12.8px">-</tspan><tspan x="47.00" y="216.37" textLength="8.00" lengthAdjust="spacingAndGlyphs" style="font-size:12.8px">9</tspan></text>
<text class="tk"><tspan x="25.20" y="180.52" textLength="16.00" lengthAdjust="spacingAndGlyphs" style="font-size:14.6px">10</tspan><tspan x="41.40" y="173.92" textLength="6.00" lengthAdjust="spacingAndGlyphs" style="font-size:12.8px">-</tspan><tspan x="47.00" y="173.92" textLength="8.00" lengthAdjust="spacingAndGlyphs" style="font-size:12.8px">8</tspan></text>
<text class="tk"><tspan x="25.20" y="138.07" textLength="16.00" lengthAdjust="spacingAndGlyphs" style="font-size:14.6px">10</tspan><tspan x="41.40" y="131.47" textLength="6.00" lengthAdjust="spacingAndGlyphs" style="font-size:12.8px">-</tspan><tspan x="47.00" y="131.47" textLength="8.00" lengthAdjust="spacingAndGlyphs" style="font-size:12.8px">7</tspan></text>
<text class="tk"><tspan x="25.20" y="95.62" textLength="16.00" lengthAdjust="spacingAndGlyphs" style="font-size:14.6px">10</tspan><tspan x="41.40" y="89.02" textLength="6.00" lengthAdjust="spacingAndGlyphs" style="font-size:12.8px">-</tspan><tspan x="47.00" y="89.02" textLength="8.00" lengthAdjust="spacingAndGlyphs" style="font-size:12.8px">6</tspan></text>
<text class="tk"><tspan x="25.20" y="53.17" textLength="16.00" lengthAdjust="spacingAndGlyphs" style="font-size:14.6px">10</tspan><tspan x="41.40" y="46.57" textLength="6.00" lengthAdjust="spacingAndGlyphs" style="font-size:12.8px">-</tspan><tspan x="47.00" y="46.57" textLength="8.00" lengthAdjust="spacingAndGlyphs" style="font-size:12.8px">5</tspan></text>
<text class="lg" x="72.80" y="34.25" textLength="30.40" lengthAdjust="spacingAndGlyphs" fill="#000000" stroke="#000000">THERM</text>
<text class="lg" x="120.30" y="34.25" textLength="30.90" lengthAdjust="spacingAndGlyphs" fill="#ff0000" stroke="#ff0000">CRDES</text>
<text class="lg" x="168.30" y="34.25" textLength="31.10" lengthAdjust="spacingAndGlyphs" fill="#0000ff" stroke="#0000ff">H2DES</text>
<text class="lg" x="216.50" y="34.25" textLength="30.90" lengthAdjust="spacingAndGlyphs" fill="#0a830a" stroke="#0a830a">H2DES</text><text class="lg" transform="translate(247.30,36.65) skewX(-16)" style="font-size:14px;stroke-width:0.22px" fill="#0a830a" stroke="#0a830a">/</text><text class="lg" x="253.80" y="34.25" textLength="30.50" lengthAdjust="spacingAndGlyphs" fill="#0a830a" stroke="#0a830a">CRDES</text>
<text class="lg" x="301.80" y="34.25" textLength="18.50" lengthAdjust="spacingAndGlyphs" fill="#ffa500" stroke="#ffa500">PDD</text>
<text class="lg" x="337.70" y="34.25" textLength="18.90" lengthAdjust="spacingAndGlyphs" fill="#8b008b" stroke="#8b008b">PDD</text><text class="lg" transform="translate(356.50,36.65) skewX(-16)" style="font-size:14px;stroke-width:0.22px" fill="#8b008b" stroke="#8b008b">/</text><text class="lg" x="363.00" y="34.25" textLength="30.80" lengthAdjust="spacingAndGlyphs" fill="#8b008b" stroke="#8b008b">CRDES</text>
<text class="lg" x="72.80" y="50.45" textLength="31.00" lengthAdjust="spacingAndGlyphs" fill="#aa2626" stroke="#aa2626">H2DES</text><text class="lg" transform="translate(103.70,52.85) skewX(-16)" style="font-size:14px;stroke-width:0.22px" fill="#aa2626" stroke="#aa2626">/</text><text class="lg" x="110.20" y="50.45" textLength="18.70" lengthAdjust="spacingAndGlyphs" fill="#aa2626" stroke="#aa2626">PDD</text>
<text class="lg" x="146.00" y="50.45" textLength="15.00" lengthAdjust="spacingAndGlyphs" fill="#808000" stroke="#808000">ALL</text>
<text class="an" y="192.2"><tspan x="72.70" textLength="16.80" lengthAdjust="spacingAndGlyphs">gas:</tspan> <tspan x="94.80" textLength="18.50" lengthAdjust="spacingAndGlyphs">solid</tspan></text>
<text class="an" y="205.1"><tspan x="72.70" textLength="28.00" lengthAdjust="spacingAndGlyphs">grains:</tspan> <tspan x="105.80" textLength="29.60" lengthAdjust="spacingAndGlyphs">dashed</tspan></text>
</svg></body></html>
